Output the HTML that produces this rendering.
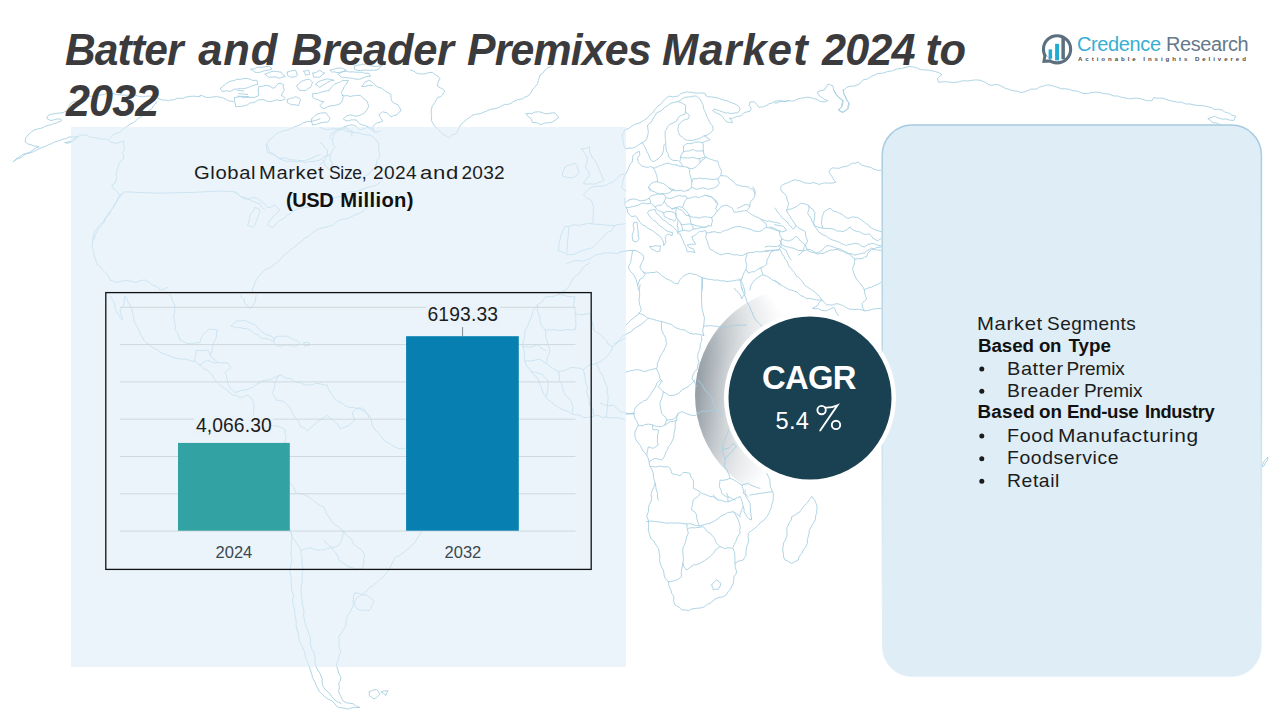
<!DOCTYPE html>
<html><head><meta charset="utf-8">
<title>Batter and Breader Premixes Market 2024 to 2032</title>
<style>
html,body{margin:0;padding:0;}
body{width:1280px;height:720px;position:relative;overflow:hidden;background:#fff;font-family:"Liberation Sans",sans-serif;}
svg.l{position:absolute;left:0;top:0;width:1280px;height:720px;}
.x{position:absolute;white-space:nowrap;line-height:1;transform-origin:0 0;}
#lpanel{position:absolute;left:71px;top:127px;width:555.3px;height:539.6px;background:rgba(223,237,248,0.62);}
</style></head>
<body>
<svg class="l" viewBox="0 0 1280 720" fill="none" stroke="#a6cfe1" stroke-width="0.9" stroke-linejoin="round" stroke-linecap="round">
<defs><radialGradient id="gg" gradientUnits="userSpaceOnUse" cx="668" cy="384" r="135"><stop offset="0.2" stop-color="#959ea5"/><stop offset="0.4" stop-color="#a6aeb4"/><stop offset="0.6" stop-color="#c3c9cd"/><stop offset="0.75" stop-color="#dcdfe2"/><stop offset="0.9" stop-color="#f0f1f3"/><stop offset="1" stop-color="#ffffff"/></radialGradient>
<radialGradient id="gg2" gradientUnits="userSpaceOnUse" cx="810" cy="398" r="116"><stop offset="0.72" stop-color="#fff" stop-opacity="0.45"/><stop offset="0.86" stop-color="#fff" stop-opacity="0.18"/><stop offset="0.97" stop-color="#fff" stop-opacity="0"/></radialGradient></defs>
<circle cx="803" cy="395" r="108" fill="url(#gg)" stroke="none"/><circle cx="803" cy="395" r="108" fill="url(#gg2)" stroke="none"/>
<path d="M13.3 161.7 L16.7 159.2 L19.7 157.9 L21.7 157.5 L23.6 155.3 L27.5 153.2 L30.2 152.9 L33.3 151.7 L36.1 150.4 L40.0 148.3 L43.5 146.8 L46.7 145.8 L48.7 144.5 L51.0 144.0 L53.5 142.4 L58.3 140.8 L61.3 139.8 L64.3 138.9 L66.7 138.3 L69.0 137.1 L73.3 136.7 L76.6 136.7 L80.0 135.8 L82.5 135.1 L86.7 135.0 L90.0 137.0 L93.3 137.5 L97.7 138.2 L101.7 139.2 L106.0 139.0 L108.3 140.0 M13.3 161.7 L14.9 160.2 L16.7 158.3 L18.5 157.6 L21.3 155.5 L23.3 154.3 L26.7 153.3 L29.3 152.5 L31.8 150.8 L35.0 148.3 L39.2 146.7 L36.7 146.2 L33.3 145.8 L30.9 144.6 L28.3 144.2 L25.0 141.7 L25.8 137.5 L28.0 134.9 L30.0 133.3 L31.4 132.1 L33.9 130.1 L36.7 129.2 L40.8 128.3 L43.1 127.6 L45.0 126.3 L48.3 125.3 L51.4 124.7 L53.3 123.7 L56.5 123.0 L58.7 121.9 L61.7 120.8 L60.8 119.2 L57.9 118.9 L54.5 119.7 L51.7 120.4 L50.0 120.3 L46.7 118.3 L48.3 115.3 L52.3 114.0 L55.0 113.7 L56.9 113.2 L59.7 113.2 L63.3 112.5 L66.7 110.8 L67.7 109.0 L69.2 106.4 L70.3 104.2 L71.7 102.5 L75.0 101.5 L81.2 100.1 L83.8 98.4 L86.7 96.3 L93.0 96.2 L96.6 95.5 L101.7 94.9 L106.7 93.7 L112.2 93.2 L116.5 94.6 L126.9 95.3 L133.3 94.3 L138.6 96.4 L142.2 96.8 L145.9 96.3 L150.0 96.0 L152.3 96.7 L156.1 97.4 L160.0 99.2 L163.8 100.3 L165.5 100.0 L168.3 100.8 L170.5 100.0 L173.7 99.8 L177.9 98.2 L183.3 98.3 L185.5 97.2 L189.9 96.4 L193.7 96.2 L200.0 96.7 M65.0 142.5 L67.6 142.2 L70.3 141.3 L71.7 140.0 L75.0 137.7 L78.3 136.7 L76.3 138.6 L73.3 140.8 L70.5 142.5 L66.7 143.3 L65.0 142.5 M156.7 101.7 L155.3 104.0 L153.4 105.8 L152.1 108.3 L150.0 110.0 L147.7 111.7 L146.3 114.2 L141.3 116.4 L138.3 118.3 L136.4 120.4 L133.5 122.7 L130.5 123.9 L126.7 126.7 L123.6 128.7 L121.2 131.4 L119.3 132.5 L116.7 133.3 L113.8 134.5 L111.1 136.4 L110.0 138.3 M108.3 140.0 L110.2 141.7 L112.1 142.5 L115.0 143.3 L118.1 142.7 L120.1 142.3 L123.3 140.8 L123.7 143.3 L124.2 146.7 L124.1 149.9 L122.5 153.3 L123.3 155.0 L124.2 158.3 L122.2 159.6 L120.0 161.7 L118.9 163.9 L118.5 165.9 L117.5 168.3 L116.8 170.2 L116.1 173.5 L116.7 176.7 L115.8 181.0 L115.0 183.3 L111.7 185.0 L113.3 188.3 L116.5 190.7 L118.4 193.6 L120.0 195.0 L121.5 193.7 L124.2 192.5 M120.0 195.0 L116.7 200.0 M117.5 200.0 L114.9 204.9 L113.2 207.5 L111.2 209.8 L110.0 213.0 L107.9 216.1 L105.7 217.8 L104.6 221.4 L101.2 226.2 L98.2 229.5 L97.0 232.0 L95.2 234.9 L93.8 240.0 M124.2 191.8 L158.5 193.2 L195.6 192.3 L219.1 191.0 L235.0 191.8 L237.8 194.2 L241.2 197.0 L245.0 197.2 L247.2 198.2 L250.0 200.0 L252.6 201.3 L256.3 202.7 L260.0 203.8 L261.9 207.4 L265.0 210.0 M320.0 118.8 L316.8 120.0 L314.4 120.6 L312.5 121.2 L310.2 121.4 L307.3 121.6 L303.3 122.9 L300.0 125.0 L296.9 126.0 L292.1 128.0 L288.2 129.8 L282.5 131.2 L279.1 132.6 L276.7 133.6 L274.3 135.4 L272.5 137.5 L270.3 139.4 L268.8 140.5 L267.4 142.9 L266.2 145.0 L266.8 148.8 L267.5 152.5 L270.3 153.5 L273.1 154.0 L275.2 155.7 L277.5 157.5 L281.1 158.3 L284.9 157.7 L289.0 159.6 L292.5 160.0 L296.5 160.0 L298.7 160.5 L304.7 160.7 L310.0 158.8 L314.0 157.2 L317.4 155.4 L320.0 155.0 M220.3 88.4 L222.6 86.4 L224.4 85.0 L226.4 83.4 L230.0 81.3 L234.4 80.5 L236.6 79.3 L240.4 79.3 L242.9 78.8 L246.7 78.3 L249.7 79.1 L252.5 80.4 L256.9 80.3 L257.9 84.4 L255.0 84.8 L250.8 86.4 L248.6 87.4 L245.4 88.3 L242.7 88.9 L240.6 88.4 L237.3 89.0 L234.1 89.3 L230.5 91.5 L227.1 90.7 L225.4 91.1 L222.3 91.5 L220.3 88.4 M237.6 90.5 L243.7 90.9 M238.6 93.5 L247.7 94.5 M237.6 96.2 L248.8 96.6 M234.5 97.6 L237.8 97.0 L240.6 96.6 L243.5 97.8 L245.8 97.3 L248.8 97.6 L251.9 97.2 L254.9 97.4 L258.9 95.5 L258.4 92.1 L258.2 89.9 L258.9 86.4 L261.9 86.5 L263.7 85.8 L267.0 85.4 L269.9 86.2 L273.1 88.4 L276.0 86.5 L278.2 83.4 L281.3 83.7 L283.3 84.4 L283.1 86.9 L284.3 90.5 L282.5 93.0 L281.3 95.5 L283.1 96.3 L285.3 98.6 L283.1 99.8 L281.3 100.6 L279.2 100.5 L276.6 99.8 L272.3 101.2 L269.1 101.6 L266.8 101.1 L264.8 100.0 L260.9 99.6 L257.7 100.1 L255.7 101.8 L252.8 102.7 L249.6 103.1 L247.8 104.7 L244.7 105.7 L240.3 106.5 L237.6 106.6 L235.5 106.7 L235.5 104.0 L234.5 101.6 L234.5 97.6 M287.3 99.6 L290.6 98.3 L293.5 97.9 L295.5 96.6 L298.9 98.0 L300.5 99.6 L299.4 103.3 L298.5 105.7 L295.0 104.7 L291.4 104.7 L289.5 103.7 L287.3 102.7 L287.3 99.6 M250.8 69.1 L254.6 68.8 L256.3 67.8 L258.9 67.1 L261.1 67.4 L264.6 66.8 L269.1 66.1 L272.1 69.1 L267.9 70.4 L264.8 70.7 L263.0 71.2 L260.1 72.2 L257.8 72.5 L254.8 72.2 L253.5 70.8 L250.8 69.1 M265.0 74.2 L268.5 72.8 L270.1 72.1 L273.1 71.2 L276.4 71.5 L278.8 71.8 L281.3 72.2 L282.6 74.3 L285.3 76.3 L281.4 77.5 L279.2 78.3 L275.0 76.8 L272.6 77.0 L269.1 77.3 L267.2 76.0 L265.0 74.2 M287.3 72.2 L290.1 71.1 L292.9 70.6 L295.5 70.2 L296.3 72.0 L297.5 75.2 L295.5 76.6 L291.4 77.3 L289.5 76.6 L287.3 75.2 L287.3 72.2 M303.6 71.2 L306.6 70.8 L308.7 70.2 L309.7 74.2 L305.6 75.2 L304.8 72.8 L303.6 71.2 M296.5 86.4 L298.7 83.8 L301.6 81.3 L303.6 80.6 L306.7 79.4 L309.7 79.3 L312.7 82.3 L311.4 85.2 L310.7 87.4 L308.6 88.2 L305.6 90.5 L301.9 90.3 L299.5 90.5 L298.1 87.9 L296.5 86.4 M312.7 73.2 L316.5 72.2 L319.8 70.2 L322.6 72.3 L324.9 73.2 L321.9 74.9 L319.8 77.3 L316.5 77.0 L313.8 77.3 L312.7 73.2 M315.8 84.4 L317.9 82.0 L321.9 80.3 L325.0 79.7 L327.5 78.9 L330.0 79.3 L334.1 80.3 L330.7 80.9 L327.8 82.1 L325.9 83.4 L322.7 85.3 L319.8 87.4 L317.8 85.6 L315.8 84.4 M330.0 70.2 L334.1 69.2 L338.1 68.1 L340.8 68.0 L342.8 68.5 L346.3 70.2 L342.9 71.6 L340.2 72.2 L337.1 72.6 L334.3 71.8 L332.0 72.2 L330.0 70.2 M329.0 90.5 L331.4 87.3 L334.1 84.4 L338.2 82.7 L340.8 81.7 L342.2 80.3 L345.7 80.5 L348.3 80.3 L346.6 84.0 L344.2 86.4 L343.3 89.0 L341.2 92.5 L342.5 94.7 L343.2 96.6 L342.4 100.6 L340.2 103.7 L337.3 104.8 L334.8 105.5 L332.0 105.7 L330.0 105.8 L327.4 107.0 L323.9 108.8 L321.5 107.3 L319.8 105.7 L321.9 103.6 L323.9 101.6 L320.8 101.2 L317.8 99.6 L314.5 98.7 L312.7 97.6 L312.7 93.5 L314.7 93.6 L317.4 93.5 L319.8 92.5 L323.1 91.7 L325.4 91.2 L329.0 90.5 M338.1 74.2 L340.0 73.0 L343.0 71.6 L346.3 71.2 L349.4 72.0 L353.5 71.8 L355.2 72.2 L358.4 72.2 L362.3 72.3 L364.7 73.3 L368.6 73.2 L370.6 76.3 L367.0 76.4 L364.1 77.4 L362.5 78.3 L359.4 79.2 L357.5 79.3 L355.1 79.0 L352.3 78.3 L348.8 77.9 L344.5 77.4 L342.2 77.3 L340.1 76.0 L338.1 74.2 M354.4 66.1 L358.1 65.0 L360.2 65.0 L362.5 64.1 L365.3 64.3 L367.1 63.9 L369.9 65.6 L372.7 66.1 L376.6 66.5 L380.5 65.7 L382.8 65.1 L380.7 66.5 L378.8 69.1 L376.0 70.2 L373.6 70.2 L369.6 70.3 L366.6 70.2 L363.0 70.1 L360.4 70.5 L357.6 70.5 L354.4 69.1 L354.4 66.1 M342.2 95.5 L345.3 95.9 L347.4 95.5 L350.3 96.6 L353.4 95.7 L355.3 95.7 L357.2 95.3 L360.5 95.5 L362.9 98.1 L366.6 100.6 L368.2 104.4 L368.6 106.7 L366.6 110.2 L364.5 112.8 L361.5 114.5 L358.4 115.9 L355.1 116.1 L352.7 115.3 L350.3 114.8 L347.0 115.9 L344.5 117.6 L343.2 118.9 L346.3 120.9 L349.0 120.6 L351.3 119.8 L353.8 119.9 L356.4 119.9 L357.3 121.5 L359.6 123.7 L362.5 125.0 L365.6 125.5 L368.6 127.0 L371.4 128.1 L374.7 131.1 L373.4 129.4 L372.7 127.0 L374.2 125.1 L376.7 123.0 L380.1 122.4 L382.8 120.9 L380.4 117.5 L378.8 114.8 L380.7 113.4 L382.8 111.8 L386.9 112.8 L388.9 114.5 L390.9 116.9 L393.1 115.8 L397.0 114.8 L399.3 111.9 L401.1 110.8 L399.7 107.6 L398.0 104.7 L394.1 103.2 L392.0 101.6 L391.1 98.6 L390.9 94.5 L388.0 92.7 L384.8 90.5 L381.2 88.1 L378.8 87.4 L375.9 86.0 L374.7 84.4 L372.7 82.6 L371.2 81.3 L368.6 80.3 L366.1 81.6 L364.5 82.3 L363.4 84.8 L361.5 86.4 L364.9 86.6 L368.6 85.4 L372.7 85.4 M311.7 118.9 L314.8 115.9 L317.8 113.8 L320.9 113.0 L323.1 112.9 L325.9 112.8 L327.9 115.7 L330.0 117.9 L329.6 119.6 L328.0 122.0 L323.8 122.3 L319.8 123.0 L316.7 124.3 L312.7 125.0 L311.5 121.9 L311.7 118.9 M200.0 95.5 L202.4 95.7 L205.1 97.1 L208.1 97.6 L210.6 97.4 L213.1 96.9 L216.3 96.6 L220.7 97.3 L223.5 98.1 L226.4 99.6 L228.7 100.9 L230.9 101.2 L233.5 101.6 M330.0 139.2 L330.2 136.5 L332.0 133.1 L334.7 131.2 L338.1 129.1 L340.9 128.2 L342.6 128.0 L346.3 128.0 L349.7 130.2 L352.3 131.1 L352.2 133.7 L351.3 136.2 M1262.0 466.0 L1263.7 461.9 L1265.5 459.5 L1268.0 457.0 L1267.3 460.5 L1265.4 462.8 L1263.5 466.5 L1262.0 466.0 M410.0 70.0 L414.2 71.2 L416.2 73.0 L420.3 74.0 L425.0 73.8 L428.7 72.6 L432.5 72.5 L435.7 75.0 L438.6 76.7 L440.0 78.8 L437.9 82.6 L437.5 86.2 L440.6 88.0 L442.5 88.8 L445.0 91.2 L443.6 92.5 L442.5 95.0 L440.8 96.5 L437.5 97.5 L436.3 99.9 L434.9 102.4 L433.8 103.8 L431.9 107.0 L431.4 109.7 L431.2 113.8 L431.7 116.8 L431.4 120.4 L432.8 123.4 L433.8 125.0 L435.4 126.8 L437.9 128.7 L440.0 131.2 L443.0 134.6 L445.7 135.6 L448.8 137.5 L450.3 136.7 L452.7 134.6 L456.2 133.8 L457.5 131.2 L458.1 129.5 L460.0 126.2 L461.6 123.5 L463.2 122.5 L465.0 120.9 L467.5 118.8 L470.7 117.0 L472.0 115.4 L475.6 114.2 L480.0 113.8 L483.0 112.5 L486.4 111.1 L491.6 109.0 L495.0 108.8 L500.6 106.7 L504.2 104.4 L507.7 104.4 L510.0 103.8 L513.9 101.3 L517.7 99.7 L519.8 99.2 L522.5 98.8 L524.9 97.0 L526.9 96.5 L528.9 95.1 L531.2 92.5 L532.3 89.9 L534.8 87.2 L537.5 83.8 L538.4 80.5 L539.0 78.6 L540.0 75.0 L542.8 73.2 L545.0 70.0 L547.9 67.7 L550.3 67.0 L552.5 65.0 M526.2 113.8 L529.6 113.4 L531.8 113.6 L535.0 112.0 L539.5 111.8 L542.4 112.7 L545.0 113.8 L548.8 113.5 L552.3 112.8 L555.0 113.0 L557.2 115.5 L558.8 117.5 L556.2 119.5 L552.5 122.0 L550.0 122.7 L546.4 122.9 L544.2 123.1 L541.2 124.5 L538.6 123.7 L536.4 122.7 L532.5 122.5 L531.2 118.8 L528.1 116.4 L526.2 113.8 M320.0 127.5 L324.4 129.0 L326.9 129.7 L332.0 128.9 L335.0 128.8 L340.5 129.3 L344.0 129.8 L347.5 131.5 L352.5 132.5 L359.2 132.9 L362.8 134.5 L366.6 134.9 L370.0 135.0 L372.8 136.8 L376.4 139.9 L378.8 143.8 L379.0 146.0 L378.6 149.4 L379.1 151.8 L380.0 155.0 L378.6 158.3 L376.8 160.7 L376.2 165.0 L374.3 168.0 L373.0 169.8 L370.0 172.5 L367.8 174.6 L365.6 175.8 L362.2 177.6 L357.5 178.8 M320.0 142.5 L322.8 144.5 L324.3 147.0 L327.5 150.0 L327.5 153.9 L326.2 156.2 L325.0 160.0 L322.6 162.3 L320.0 165.0 M774.7 103.0 L777.1 102.9 L781.2 101.2 L784.9 101.5 L788.8 100.6 L791.4 101.1 L794.3 100.8 L797.2 99.1 L800.6 98.3 L803.8 97.8 L807.7 97.1 L812.1 98.0 L813.8 98.6 L817.1 99.4 L819.5 101.1 L821.9 101.8 L825.4 101.8 L827.8 100.6 L823.6 99.0 L822.2 97.7 L819.5 95.9 L817.1 92.4 L821.0 90.6 L824.2 90.0 M833.7 90.0 L835.8 93.3 L837.3 95.7 L838.4 97.1 L840.4 98.2 L843.1 100.6 L841.9 103.5 L841.9 106.5 L840.6 107.9 L838.4 110.1 L840.9 111.9 L843.1 112.4 L844.7 110.6 L847.8 108.9 L849.2 105.3 L849.0 103.0 L846.7 100.4 L845.5 97.1 L844.1 94.6 L843.8 92.7 L843.1 90.0 M769.9 226.9 L772.9 227.8 L775.8 229.1 L779.4 231.6 L779.9 235.1 L781.7 238.7 L780.8 243.1 L779.4 245.8 L777.2 246.4 L773.5 246.6 L768.8 246.1 L765.2 247.0 M774.7 224.5 L778.0 225.5 L781.8 225.8 L784.1 226.9 L786.5 230.4 L782.5 231.8 L779.4 231.6 M774.7 208.0 L776.2 209.8 L778.3 213.1 L780.6 215.3 L781.7 217.4 L784.5 219.4 L785.8 221.0 L787.9 222.8 L788.8 224.5 L791.0 226.9 L793.5 229.2 L795.9 225.7 L793.9 222.2 L791.2 218.6 L790.3 216.4 L788.8 214.7 L787.6 213.0 L786.5 210.4 L787.5 207.9 L788.0 205.5 L788.8 203.3 L787.2 199.9 L786.5 196.2 L784.0 193.2 L781.7 191.5 L780.8 189.3 L780.6 186.8 L783.1 184.5 L786.5 183.2 L790.1 181.7 L792.0 180.6 L795.9 179.7 L797.6 180.6 L800.4 180.9 L804.2 182.8 L807.7 183.2 L810.2 183.4 L813.7 182.6 L815.9 183.4 L819.5 184.4 L822.2 183.4 L824.5 182.9 L828.9 183.2 L833.0 183.0 L836.0 182.0 L833.8 180.0 L832.5 177.3 L830.5 174.5 L828.9 171.4 L830.9 168.9 L832.5 167.9 L836.5 168.2 L839.1 168.3 L843.1 166.7 L846.2 166.5 L848.7 165.3 L852.5 163.2 L855.1 163.3 L858.4 162.0 L859.5 163.6 L862.1 165.2 L864.6 165.9 L866.7 166.7 L869.5 167.0 L871.3 167.7 L873.8 169.1 L877.8 170.4 L880.9 170.2 M786.5 210.4 L788.8 209.3 L791.1 209.0 L793.5 208.0 L797.1 206.3 L798.9 204.6 L800.6 203.3 L804.8 203.8 L808.9 205.6 L808.9 209.8 L807.7 212.7 L808.5 215.1 L811.0 218.1 L812.4 222.2 L814.5 225.2 L817.1 226.9 L820.2 227.7 L823.0 228.1 L821.6 224.5 L821.3 222.5 L821.9 219.8 L822.1 216.7 L823.0 214.8 L824.2 211.5 L827.3 209.6 L830.1 208.0 L832.2 210.1 L833.9 211.1 L836.1 211.6 L838.4 212.7 L842.4 214.5 L844.2 216.1 L847.8 218.6 L850.4 217.6 L852.8 217.0 L857.3 217.4 L859.9 218.9 L862.3 220.6 L864.3 222.2 L866.6 223.9 L868.2 224.6 L870.1 227.1 L873.8 229.2 L876.7 230.4 L880.9 231.6 M795.9 225.7 L797.6 227.0 L800.6 229.2 L803.0 230.1 L805.3 231.6 L805.6 235.2 L806.3 237.7 L807.7 241.1 L805.9 244.3 L804.2 247.3 L803.0 250.5 L800.4 253.8 L798.3 255.2 M808.9 205.6 L810.8 208.1 L812.9 209.4 L814.8 212.7 L814.7 217.0 L814.3 220.0 L813.6 222.2 L814.5 226.0 L816.6 228.8 L818.3 231.6 L821.0 233.5 L822.9 234.8 L826.6 236.3 L829.5 238.7 L832.2 239.9 L836.0 241.1 L839.7 242.4 L841.5 243.7 L844.1 244.5 L845.5 245.8 L847.7 244.8 L850.8 244.3 L854.9 243.4 L859.1 244.1 L861.8 246.2 L864.3 247.0 L867.9 244.5 L871.2 243.7 L873.8 243.4 L876.8 244.9 L880.9 245.8 M823.0 228.1 L826.2 228.5 L829.6 228.4 L833.7 229.2 L837.4 231.1 L840.4 231.1 L843.1 231.6 L844.8 230.8 L847.1 229.4 L850.2 226.9 L851.1 228.4 L853.6 230.2 L857.3 231.6 L859.7 231.8 L862.9 233.7 L865.2 234.4 L869.1 234.0 L871.3 235.7 L873.1 238.6 L874.9 239.0 L877.3 241.1 L880.9 238.7 M779.4 245.8 L780.7 246.9 L783.2 248.6 L786.5 250.5 L787.1 253.2 L788.6 256.0 L789.8 258.6 L791.2 259.9 M781.7 238.7 L784.2 240.1 L786.3 240.4 L788.8 241.1 L791.9 239.6 L793.7 238.8 L795.9 236.3 L798.0 237.8 L800.6 241.1 L802.8 242.9 L804.3 243.9 L805.6 246.2 L807.7 250.5 L810.2 251.8 L813.2 252.6 L817.1 252.9 L819.8 251.7 L822.7 249.7 L824.5 247.5 L826.6 245.8 L829.8 245.8 L831.8 246.6 L834.4 247.2 L836.0 248.1 L840.0 249.1 L842.2 250.1 L845.5 252.9 L848.6 253.9 L851.1 253.6 L854.9 255.2 L859.1 254.0 L860.9 253.6 L864.3 252.9 L866.6 250.8 L869.2 249.8 L871.4 248.1 L875.4 249.6 L877.6 250.0 L880.9 250.5 M622.3 134.3 L623.7 132.4 L624.6 129.7 L628.2 128.8 L630.5 127.1 L632.2 125.9 L635.4 124.1 L637.2 123.7 L639.9 122.9 L643.3 120.7 L646.0 119.0 L647.9 117.4 L650.6 114.4 L653.3 112.3 L654.3 110.3 L656.7 107.6 L658.1 105.8 L660.5 104.5 L662.8 101.5 L665.9 98.4 L668.9 96.1 L672.7 96.9 L675.2 96.4 L678.1 96.1 L680.6 93.8 L682.7 93.1 L686.3 91.9 L688.8 92.3 L692.0 92.2 L694.0 92.9 L696.4 93.1 L699.3 93.1 L701.6 93.1 L704.8 93.1 L706.3 96.1 L708.8 96.9 L711.7 96.9 L714.9 97.5 L717.3 97.9 L719.3 98.4 L723.1 100.0 L727.0 100.7 L728.6 101.6 L731.3 102.7 L734.6 103.8 L736.8 105.0 L739.2 106.8 L740.0 109.9 L737.7 112.9 L735.2 112.8 L731.6 113.7 L728.2 112.9 L725.4 112.9 L723.0 112.1 L719.3 110.6 L716.2 109.6 L714.0 109.1 L712.5 110.6 L716.3 112.9 L718.1 113.8 L720.9 115.2 L723.0 117.4 L723.9 119.0 L727.0 122.1 L729.2 122.2 L732.3 122.9 L731.6 119.8 L729.3 118.3 L732.3 118.2 L734.6 117.5 L736.9 116.4 L740.7 116.0 L743.8 112.9 L746.3 112.0 L749.9 111.4 L751.4 108.3 L749.1 105.3 L749.9 102.2 L752.2 101.7 L754.5 101.9 L756.8 104.5 L759.1 107.6 L761.1 106.9 L763.6 106.8 L767.2 105.1 L769.0 103.8 L771.3 103.4 L774.3 101.5 L776.5 101.0 L780.0 100.7 L782.7 101.2 L785.8 101.2 L789.0 100.5 M622.3 134.3 L622.6 136.6 L622.9 139.1 L623.1 142.0 L623.9 145.7 L625.3 148.8 L628.6 148.1 L632.2 148.1 L635.9 146.8 L638.3 145.0 L642.2 142.7 L643.7 145.5 L645.2 147.3 L646.1 149.6 L646.8 151.6 L648.3 154.2 L649.6 157.1 L650.6 159.5 L652.9 161.8 L655.3 160.6 L658.2 158.8 L659.6 157.2 L662.0 154.9 L663.2 151.9 L663.6 149.6 L663.7 146.7 L664.3 144.2 M642.2 142.7 L645.1 141.0 L646.7 138.9 L647.6 135.9 L648.1 133.6 L648.3 131.3 L647.7 127.7 L647.5 125.1 L650.8 122.7 L652.9 119.0 L654.3 116.9 L655.7 114.5 L656.7 112.9 L660.0 111.3 L662.4 109.9 L664.3 107.6 L666.2 106.6 L668.7 104.7 L671.2 103.0 L673.8 102.5 L678.1 101.5 L681.9 103.0 L685.7 105.3 L685.4 108.8 L685.7 112.2 M685.7 112.2 L684.9 114.4 L681.1 115.2 L678.1 117.5 L676.5 121.3 L674.3 122.1 L672.0 123.6 L669.9 124.3 L667.4 126.7 L666.8 129.0 L665.1 131.3 L665.2 133.9 L665.1 137.4 L665.5 139.8 L665.8 144.2 L665.9 147.6 L666.6 151.1 L668.0 153.8 L668.9 157.2 L670.3 158.7 L672.7 160.3 L676.1 160.5 L678.1 160.6 M678.1 101.5 L680.2 100.5 L682.7 98.4 L685.4 97.3 L688.8 96.9 L690.6 96.9 L693.3 96.1 L696.4 96.1 L698.6 98.0 L700.2 99.2 L701.6 102.2 L703.3 105.3 L703.5 108.7 L704.7 110.5 L705.6 112.9 L706.8 116.2 L708.6 119.8 L710.5 123.7 L712.5 125.9 L713.2 129.7 L711.5 131.8 L709.4 133.6 L706.8 135.2 L704.0 135.8 L707.8 137.9 L710.2 139.7 L707.5 140.8 L705.6 141.2 L702.5 142.7 M685.7 112.2 L687.8 113.7 L689.5 116.0 L688.0 119.0 L686.1 119.3 L682.7 120.6 L681.2 122.4 L678.8 124.4 L678.4 126.7 L677.8 129.7 L678.5 132.3 L679.6 135.1 L682.2 137.0 L684.2 138.9 L687.4 140.3 L689.5 140.4 L692.1 140.5 L696.4 139.2 L698.5 138.9 L701.4 137.6 L704.0 135.8 M683.4 146.5 L685.2 144.5 L687.2 143.5 L690.1 143.7 L692.9 143.2 L694.9 142.0 L699.1 142.0 L702.5 142.7 L703.3 145.0 L703.3 148.8 L703.3 151.1 L701.0 150.8 L697.9 151.1 L695.7 150.8 L693.3 149.6 L690.4 150.3 L688.8 151.1 L686.6 151.0 L683.4 151.9 L683.7 149.0 L683.4 146.5 M683.4 151.9 L682.7 152.7 L681.0 155.2 L680.4 157.2 L683.1 157.8 L687.2 158.0 L690.4 157.9 L693.3 157.2 L696.2 158.5 L699.5 158.8 L702.5 157.7 L705.6 157.2 L704.1 154.9 L703.3 151.1 M680.4 157.2 L680.4 159.6 L679.6 161.8 L681.5 163.8 L682.7 166.4 L684.9 166.8 L687.2 167.2 L689.5 168.3 L691.8 168.7 L693.6 168.2 L696.4 166.4 L698.3 164.6 L700.2 162.6 L699.5 158.8 M676.5 164.9 L678.9 166.1 L681.1 166.4 L682.7 166.4 M632.2 161.8 L632.5 159.0 L633.0 155.7 L635.1 153.4 L636.8 152.7 L639.1 151.1 L639.9 154.2 L637.6 158.0 L637.8 160.5 L638.3 162.6 L641.4 165.6 L643.0 166.3 L646.0 167.2 L648.6 167.2 L650.6 166.4 L652.9 167.9 L655.4 167.8 L658.2 166.4 L661.3 165.2 L664.3 164.1 L667.1 163.2 L668.9 163.3 L671.4 164.3 L673.5 164.9 L676.5 164.9 M632.2 161.8 L630.5 163.6 L629.2 166.4 L627.8 169.6 L626.1 173.3 L624.2 176.6 L623.1 180.2 L622.5 183.3 L622.1 186.1 L621.5 187.8 L623.7 189.3 L626.1 190.9 M652.9 167.9 L654.4 169.5 L655.9 173.1 L656.7 175.6 L657.4 178.6 L657.4 181.7 L653.7 182.1 L650.6 184.0 L648.3 187.8 L650.6 190.9 M657.4 181.7 L660.3 182.9 L662.8 183.2 L665.7 185.0 L668.9 187.8 L671.5 188.9 L675.0 190.1 M687.2 190.9 L689.5 189.4 L691.1 187.8 L691.6 185.6 L691.8 181.7 L690.9 177.9 L690.3 175.6 L689.7 173.4 L689.5 169.5 L687.2 167.2 M668.9 187.8 L672.0 190.9 M700.2 162.6 L701.7 160.3 L704.3 158.9 L705.6 157.2 L709.3 158.8 L711.7 159.5 L714.9 160.8 L717.8 161.1 L718.6 164.4 L719.3 166.4 L720.4 168.9 L721.6 171.0 L721.1 173.5 L720.9 175.6 L717.8 178.6 L714.5 179.4 L711.7 179.4 L708.3 179.0 L705.6 178.6 L702.0 178.7 L699.5 177.9 L697.1 178.8 L693.3 178.6 L691.8 181.7 M720.9 175.6 L724.2 175.8 L727.0 176.3 L729.5 178.9 L731.6 180.2 L734.2 182.3 L736.1 184.7 L738.9 185.3 L742.2 186.3 L745.0 186.5 L748.4 187.0 L750.6 188.7 L752.9 189.3 L753.7 191.0 L755.2 193.9 M691.1 187.8 L693.1 187.9 L696.4 189.3 L700.1 188.5 L702.5 187.8 L706.4 188.7 L708.6 189.3 L710.8 188.6 L714.7 187.8 L717.6 185.8 L719.3 183.2 L718.3 180.3 L717.8 178.6 M672.7 189.9 L671.2 191.7 L668.9 193.0 L665.6 193.8 L662.8 193.8 L660.3 194.1 L656.7 193.0 L654.9 192.0 L651.3 190.7 L650.5 188.9 L648.3 186.9 M672.7 189.9 L674.7 190.7 L678.1 190.7 L680.5 190.3 L684.2 191.5 L686.7 190.3 L688.8 189.9 M629.2 199.9 L632.6 199.0 L635.3 199.1 L638.0 200.1 L640.0 200.8 L642.9 200.6 L646.5 199.8 L649.0 198.3 L650.9 196.2 L652.9 195.3 L655.8 194.7 L658.2 193.8 L660.4 194.2 L662.8 193.8 M649.0 198.3 L650.4 200.8 L650.6 202.9 L652.1 204.4 L655.1 206.7 L658.6 205.3 L661.3 205.2 L662.8 203.7 L664.3 201.4 L665.8 197.6 L664.9 195.8 L662.8 193.8 M624.6 198.3 L625.0 200.6 L624.6 202.9 L626.7 201.6 L629.2 199.9 M624.6 202.9 L625.1 205.2 L626.1 207.5 L628.6 207.6 L632.2 206.7 L635.1 206.2 L638.3 205.2 L640.8 203.9 L642.9 202.9 L645.7 203.7 L649.0 203.7 L650.6 202.9 M665.8 197.6 L669.7 198.4 L672.0 198.3 L675.8 196.4 L679.6 195.3 L681.8 196.2 L685.7 196.0 L687.2 198.3 L685.2 200.7 L684.2 202.9 L683.4 204.9 L682.7 207.5 L679.8 206.7 L678.1 206.7 L674.9 208.2 L672.0 209.0 L670.0 207.2 L667.4 206.0 L666.1 203.7 L664.3 201.4 M687.2 198.3 L690.6 198.1 L693.3 196.8 L697.0 197.0 L699.5 197.6 L701.5 196.5 L705.6 195.3 L708.5 196.1 L711.7 196.8 L714.1 199.5 L716.3 200.6 L717.8 204.4 L716.6 205.9 L715.5 209.0 L717.8 210.6 L715.6 213.0 L714.7 215.1 L711.7 217.4 L708.5 217.3 L705.6 216.7 L701.8 217.2 L699.5 218.2 L696.1 217.2 L693.3 217.4 L689.5 215.9 L687.2 212.1 L684.2 209.0 L682.7 207.5 M705.6 195.3 L708.6 196.0 L711.8 197.2 L714.7 199.9 L716.0 202.4 L717.8 204.4 M717.8 210.6 L719.3 209.2 L720.9 206.7 L724.6 205.4 L727.0 205.2 L729.3 206.6 L731.6 207.5 L733.0 209.6 L733.8 212.1 L736.8 212.1 L740.7 211.3 L744.3 210.8 L746.8 210.6 L748.3 209.0 L749.9 206.0 L750.1 203.3 L750.7 201.4 L753.1 199.3 L754.5 196.8 L755.0 193.1 L755.2 190.7 L752.9 186.9 M737.7 208.3 L740.0 207.2 L742.2 206.0 L744.0 205.0 L746.8 204.4 L749.9 206.0 M746.8 210.6 L749.1 212.7 L750.5 213.7 L752.9 215.1 L756.4 217.0 L759.0 217.8 L760.6 219.0 L763.5 220.1 L766.7 221.3 L769.2 220.9 L772.8 222.0 L775.3 222.3 L777.5 222.8 L780.0 223.6 M711.7 232.0 L714.9 231.7 L717.8 232.7 L720.8 232.7 L722.3 231.4 L725.4 230.4 L728.0 229.8 L730.1 228.5 L733.1 227.4 L737.0 226.6 L740.7 226.6 L742.8 227.6 L745.2 227.8 L748.4 228.9 L751.5 229.6 L753.1 230.8 L756.0 231.2 L759.7 231.4 L762.1 230.4 L763.8 228.7 L766.7 227.4 L765.9 223.6 L763.4 222.0 L760.6 219.0 M766.7 227.4 L770.0 228.0 L772.8 228.9 L775.4 230.2 L777.4 230.4 L780.0 230.4 M689.5 215.9 L690.3 219.7 L690.7 222.4 L691.8 224.3 L694.4 225.0 L696.4 225.8 L699.5 226.1 L702.5 227.4 L706.1 227.0 L707.9 225.8 L711.7 225.8 L711.5 223.9 L712.5 221.3 L711.7 217.4 M672.0 209.0 L673.9 208.2 L676.5 207.5 L679.2 209.3 L681.1 209.8 L684.4 212.6 L685.7 215.1 L689.5 215.9 M676.5 207.5 L675.8 211.1 L675.8 213.6 L676.4 217.2 L678.1 219.7 L679.5 221.2 L681.1 224.3 L683.8 224.8 L685.7 224.3 L689.1 224.0 L691.8 224.3 M655.1 206.7 L656.5 208.9 L658.2 210.6 L660.3 211.2 L663.6 212.9 L665.7 211.8 L668.9 211.3 L671.7 211.7 L674.2 212.9 L675.8 213.6 M663.6 212.9 L664.3 216.7 L666.4 217.3 L668.9 219.0 L672.1 219.7 L674.2 221.3 L676.5 218.2 L675.8 215.7 L675.8 213.6 M655.1 209.8 L656.2 212.4 L657.2 214.1 L659.7 215.9 L661.8 218.7 L664.2 220.4 L665.8 221.3 L667.6 222.8 L669.2 224.6 L672.0 225.8 L673.8 227.6 L676.5 230.4 L678.1 234.2 M678.1 219.7 L677.6 223.4 L677.3 225.8 L678.2 229.1 L678.1 232.0 L679.8 233.6 L681.1 236.5 L682.4 239.2 L683.4 241.1 L683.9 243.4 L685.7 246.5 L686.5 248.7 L687.2 251.8 L690.3 251.7 L692.9 251.9 L694.9 252.6 L693.3 248.8 L690.5 248.0 L688.8 247.2 L687.2 244.9 L689.1 244.6 L691.8 244.2 L695.6 244.2 L693.3 240.4 L691.8 236.5 L694.1 235.9 L696.4 234.2 L699.5 231.2 L701.9 231.5 L705.6 230.4 L706.3 232.7 L708.4 232.9 L711.7 232.0 M681.1 224.3 L682.2 227.3 L682.7 230.4 L685.3 230.4 L688.8 231.2 L691.1 230.6 L693.3 228.9 L692.8 225.8 L691.8 224.3 M678.1 232.0 L682.7 230.4 M693.3 228.9 L696.4 228.9 L699.8 227.9 L703.3 227.0 L705.6 227.4 L707.9 225.8 M706.3 232.7 L706.1 235.8 L705.6 238.1 L707.7 241.8 L707.9 244.2 L709.4 247.3 L710.2 249.5 L712.2 249.9 L714.7 251.8 L718.4 253.7 L720.9 254.9 L723.3 254.2 L727.0 253.3 L730.9 253.9 L733.1 254.9 L737.1 254.7 L740.7 255.6 L743.3 255.1 L746.8 253.3 L750.2 252.5 L752.9 252.6 L755.7 251.6 L758.6 251.8 L760.6 251.8 L764.7 251.4 L768.2 251.1 L770.8 250.3 L774.3 250.3 L777.4 250.1 L780.0 249.5 M746.8 253.3 L746.8 256.0 L745.3 259.5 L746.3 262.9 L746.8 265.6 L746.1 269.4 L748.4 273.2 L751.7 271.8 L754.5 271.7 L758.0 269.2 L760.6 267.9 L764.6 266.1 L766.7 264.0 L767.0 260.0 L769.0 256.4 L770.5 252.6 L774.3 250.3 M760.6 267.9 L761.2 269.9 L762.1 272.1 L762.9 274.7 L764.4 275.3 L767.2 276.3 L769.8 277.8 L772.0 279.8 L775.9 281.6 L777.9 282.4 L780.0 283.9 M762.9 274.7 L760.3 276.2 L757.5 277.8 L755.5 279.4 L752.9 282.4 L751.7 284.2 L750.5 286.7 L749.9 290.0 M746.1 269.4 L743.8 273.1 L743.0 275.5 L742.2 277.8 L741.2 279.9 L740.7 283.9 L741.7 287.8 L742.2 290.0 M626.1 207.5 L627.5 210.1 L627.6 212.9 L630.3 215.1 L631.5 216.7 L635.3 215.9 L636.9 217.2 L638.3 219.7 L639.9 222.3 L642.9 225.1 L645.5 225.9 L647.3 228.0 L649.0 228.9 L652.7 230.6 L655.1 232.7 L656.7 233.9 L659.7 235.8 L661.3 238.2 L662.8 240.4 L663.7 243.3 L663.6 245.7 L665.8 242.7 L665.6 239.3 L665.1 237.3 L667.4 234.2 L669.2 234.4 L672.0 235.8 L672.7 232.7 L670.1 232.0 L667.4 231.2 L665.1 229.9 L662.8 227.4 L660.4 226.3 L658.2 224.3 L656.1 221.9 L653.6 220.5 L652.2 218.9 L649.8 216.7 L647.5 212.9 L649.0 210.6 L652.5 209.7 L655.1 209.8 M633.8 222.8 L636.8 222.0 L637.3 224.5 L637.6 227.4 L638.0 231.1 L638.3 233.5 L638.2 236.1 L639.1 238.8 L636.8 241.9 L633.0 241.1 L632.4 238.0 L632.2 235.8 L632.7 233.5 L633.8 230.4 L633.9 228.1 L633.0 225.8 L633.8 222.8 M649.8 246.5 L653.0 246.5 L655.1 245.7 L658.3 246.1 L660.5 245.7 L660.3 247.7 L660.0 251.1 L656.7 251.8 L654.0 249.9 L652.1 249.5 L649.8 246.5 M620.0 251.8 L622.6 251.4 L626.1 251.1 L629.8 250.4 L633.0 250.3 L635.9 250.6 L638.3 251.8 L640.5 253.3 L642.9 254.9 L643.6 256.5 L643.7 259.5 L641.4 263.3 L639.9 267.1 L641.5 270.2 L642.9 271.7 L646.0 273.2 L648.9 272.9 L650.6 272.5 L654.3 272.5 L656.7 271.7 L659.9 273.6 L661.3 275.5 L663.9 276.9 L665.8 278.6 L669.4 280.0 L672.0 281.6 L674.9 283.4 L678.1 283.9 L679.0 281.3 L680.4 279.3 L682.2 277.3 L684.2 275.5 L688.0 273.8 L690.3 273.2 L692.9 274.1 L696.4 274.7 L698.7 276.1 L702.5 277.8 L706.4 278.8 L708.6 279.3 L711.3 279.6 L714.7 280.1 L717.9 280.0 L720.9 280.9 L723.3 280.7 L727.0 281.6 L729.6 281.2 L733.1 280.9 L736.4 280.1 L740.7 280.1 L742.2 277.8 M633.0 250.3 L632.4 252.6 L631.5 256.4 L630.9 260.1 L630.7 262.5 L629.4 264.8 L628.4 267.1 L629.1 269.1 L630.7 271.7 L633.8 274.7 L634.8 277.0 L636.0 279.3 L636.9 282.6 L637.6 285.4 L638.2 287.4 L638.3 290.0 M642.9 271.7 L645.2 274.7 L642.9 277.8 L639.9 279.3 L638.9 281.9 L637.6 285.4 M702.5 277.8 L702.2 290.0 M626.0 414.2 L629.4 413.9 L633.3 413.3 L634.1 415.0 L635.0 418.3 L636.4 420.6 L637.4 422.2 L638.3 425.0 L637.1 427.6 L635.8 430.0 L634.8 432.8 L635.0 436.7 L636.1 439.8 L638.3 443.3 L640.6 445.6 L641.5 448.2 L642.5 450.0 L645.1 453.0 L646.7 455.0 L647.8 457.4 L649.2 461.7 L649.3 464.1 L650.0 466.7 L651.7 469.0 L652.7 471.5 L653.3 473.3 L653.5 477.6 L654.2 480.0 L655.1 482.6 L655.8 486.7 L656.3 489.8 L657.5 493.3 L657.4 497.0 L658.3 500.0 M633.3 413.3 L634.5 410.5 L635.0 408.3 L637.7 404.8 L640.0 403.3 L642.4 402.0 L643.7 400.6 L646.7 400.0 L648.7 396.9 L650.7 394.3 L651.9 392.2 L653.3 390.0 L655.7 387.0 L656.7 383.3 L658.3 381.5 L660.0 380.0 M661.7 380.0 L660.1 383.9 L658.3 386.7 L660.6 389.1 L663.3 391.7 L662.8 394.8 L661.7 398.3 L660.2 402.1 L660.0 405.0 L660.9 409.1 L661.7 413.3 L664.0 415.8 L666.0 418.3 L666.7 420.0 L665.9 421.9 L665.0 425.0 L661.7 426.5 L658.3 426.7 L654.6 425.8 L652.5 425.0 L648.9 424.1 L644.9 424.6 L643.3 425.5 L640.0 425.8 L638.3 425.0 M663.3 391.7 L666.8 393.8 L670.0 395.8 L674.3 395.2 L676.7 394.2 L679.7 392.6 L681.7 390.0 L685.0 388.3 L688.3 386.7 L691.0 383.8 L693.3 381.7 L695.0 380.0 M666.7 420.0 L669.7 419.8 L673.3 419.2 L676.2 417.0 L678.3 413.3 L681.7 411.7 L684.7 412.7 L686.3 413.6 L690.0 415.0 L691.9 415.2 L695.0 415.8 L698.3 413.3 L700.7 412.2 L703.3 410.8 L706.0 411.4 L708.6 411.2 L710.5 410.6 L713.3 410.0 L716.5 411.1 L718.3 411.7 L720.2 413.8 L722.5 415.8 M652.5 425.0 L652.7 428.3 L653.3 430.0 L655.9 429.6 L658.3 430.0 L658.3 432.1 L657.5 435.1 L657.5 438.3 L657.3 442.4 L658.3 445.0 L655.3 447.1 L653.3 448.3 L651.3 447.9 L648.3 446.7 L647.5 450.9 L646.7 455.0 M665.0 425.0 L667.8 423.3 L670.0 421.7 L673.2 421.6 L676.7 420.0 L676.9 416.2 L678.3 413.3 M676.7 420.0 L675.4 422.2 L675.2 424.6 L675.2 427.4 L675.0 430.0 L673.9 433.6 L674.0 435.5 L673.3 438.3 L671.9 441.5 L670.3 444.8 L668.3 446.7 L667.9 448.7 L666.2 451.6 L665.0 455.0 L663.5 458.0 L661.7 460.0 L658.4 459.1 L655.0 458.3 L652.4 459.6 L649.2 461.7 M650.0 466.7 L652.2 466.3 L655.1 467.0 L658.3 466.6 L660.0 465.8 L661.9 466.7 L664.4 466.8 L668.3 466.7 L670.3 468.8 L671.3 471.4 L671.7 473.3 L674.2 474.4 L676.6 474.5 L680.0 475.8 L681.8 473.8 L683.3 472.5 L686.0 472.5 L690.0 473.3 L690.7 476.2 L691.6 478.3 L693.3 480.0 L693.6 484.4 L693.3 488.3 L696.7 489.8 L700.0 491.7 L702.2 493.5 L704.1 494.0 L706.7 495.0 L710.0 496.5 L713.3 496.7 L715.7 498.4 L718.3 500.0 M728.3 430.0 L728.0 432.1 L727.0 434.9 L725.0 438.3 L724.6 440.6 L722.9 443.3 L722.9 447.0 L722.5 450.0 L723.2 454.3 L725.0 458.3 L725.2 461.9 L724.6 463.8 L724.2 466.7 L726.5 469.4 L728.3 473.3 L729.6 476.5 L730.0 478.3 L728.2 479.2 L725.0 480.0 L722.0 480.4 L720.0 480.0 L719.7 483.4 L719.2 486.7 L721.0 489.6 L721.7 493.3 L723.4 495.0 L726.7 496.7 L730.6 497.7 L732.6 499.1 L735.0 500.0 M722.5 450.0 L725.8 448.6 L728.3 448.3 L730.9 446.3 L733.3 443.3 L734.5 445.2 L736.7 446.7 L735.0 447.7 L733.3 450.0 L731.1 452.8 L728.3 455.0 L727.0 456.9 L725.0 458.3 M730.0 478.3 L733.9 479.9 L736.7 481.7 L739.7 483.8 L741.7 485.0 L742.9 488.7 L743.5 491.5 L743.3 493.3 L746.2 494.8 L748.3 496.7 M741.7 485.0 L745.0 484.2 L748.3 483.3 L751.0 485.2 L755.0 486.7 L757.3 487.6 L760.0 488.3 M698.3 380.0 L699.9 382.3 L702.2 384.9 L703.2 386.9 L705.0 390.0 L707.3 392.5 L710.0 395.5 L712.2 398.6 L713.3 403.3 L714.7 407.1 L716.6 408.9 L718.3 411.7 M824.0 90.0 L825.8 87.9 L828.0 84.0 L830.2 84.8 L833.0 86.0 L833.7 90.0 L834.9 92.7 L836.2 94.6 L838.4 97.0 L840.9 99.6 L843.0 100.6 L842.9 102.9 L842.0 106.5 L840.6 107.6 L838.4 110.0 L841.0 111.2 L843.0 112.4 L845.4 110.9 L847.8 108.9 L848.1 105.5 L849.0 103.0 L846.7 99.5 L845.5 97.0 L843.7 93.4 L843.0 90.0 L844.8 89.3 L846.9 87.2 L849.9 86.3 L854.2 86.0 L856.8 84.9 L859.4 84.0 L861.6 81.3 L863.1 79.9 L867.3 79.0 L871.9 76.2 L874.3 75.2 L877.8 73.4 L882.3 73.3 L887.5 71.6 L892.5 70.8 L896.9 69.0 L901.8 68.4 L909.0 66.5 L912.1 66.8 L914.9 67.2 L920.6 69.5 L925.0 70.0 L928.7 70.1 L934.5 71.4 L938.1 72.4 L942.0 74.5 L939.1 76.8 L937.3 78.5 L938.7 82.6 L940.7 82.0 L944.3 81.7 L948.6 82.0 L952.4 82.5 L958.0 82.1 L962.7 80.7 L968.0 81.0 L971.4 80.4 L975.7 79.9 L980.0 80.2 L984.7 82.0 L988.3 84.4 L991.0 85.3 L995.4 84.6 L997.6 84.5 L1001.0 86.0 L1005.9 88.5 L1008.8 89.2 L1010.7 90.1 L1014.0 90.8 L1016.5 91.0 L1020.7 92.5 L1024.7 91.9 L1028.5 90.2 L1030.6 89.2 L1032.8 89.1 L1036.3 89.1 L1039.6 87.1 L1043.7 86.0 L1047.5 84.9 L1051.3 85.4 L1054.7 86.6 L1056.8 87.0 L1061.5 88.8 L1065.9 88.8 L1069.9 89.5 L1073.0 90.8 L1077.2 91.1 L1082.4 93.2 L1085.0 93.6 L1089.6 93.1 L1094.7 92.2 L1098.1 92.2 L1102.5 93.3 L1109.0 94.1 L1114.0 96.0 L1117.6 96.0 L1119.5 96.8 L1122.5 97.4 L1128.6 98.7 L1132.8 98.6 L1135.6 98.1 L1139.0 98.4 L1143.4 99.5 L1146.3 100.7 L1148.9 100.7 L1152.0 100.7 L1153.6 97.4 L1156.4 98.2 L1159.8 98.1 L1162.1 98.0 L1165.0 99.0 L1168.0 100.1 L1170.9 100.8 L1177.2 102.2 L1181.5 102.3 L1186.2 104.1 L1189.4 103.9 L1193.7 104.8 L1198.0 105.6 L1202.2 105.6 L1208.5 106.9 L1211.8 107.7 L1214.3 109.5 L1218.8 109.2 L1222.3 110.1 L1224.5 111.9 L1227.5 112.8 L1229.4 113.3 L1231.8 115.2 L1235.6 116.1 L1234.9 117.9 L1234.0 120.4 L1229.9 120.2 L1225.7 118.9 L1223.0 119.3 L1221.0 118.7 L1217.4 117.7 L1214.3 116.1 L1212.0 117.3 L1207.8 118.7 L1210.4 120.3 L1212.7 122.7 L1216.5 122.9 L1219.1 124.3 L1221.0 124.6 M640.1 284.8 L639.3 289.4 L639.7 293.2 L639.6 296.8 L638.9 299.0 L639.3 301.3 L639.5 304.2 L640.7 307.6 L641.3 310.8 L638.9 313.2 L637.6 315.1 L634.9 316.9 L633.0 318.4 L630.7 320.2 L628.6 322.4 L626.0 325.0 M702.0 277.8 L701.5 297.1 L701.9 308.1 L704.4 317.9 L703.8 325.0 L703.1 328.5 L702.7 331.4 L703.8 335.6 M703.8 326.1 L710.6 325.7 L716.3 326.4 L723.5 327.5 L732.2 326.1 L735.3 325.2 L741.2 325.3 L744.0 325.1 L746.3 325.0 M741.6 287.2 L742.5 288.9 L743.0 291.8 L745.0 296.3 L746.3 299.0 L746.6 301.3 L748.3 304.5 L750.0 307.0 L751.1 310.8 L752.4 313.0 L753.2 315.3 L754.4 317.8 L755.8 320.2 L757.3 321.8 L759.6 323.8 L760.8 325.1 L762.9 327.3 M734.5 288.4 L736.7 291.1 L739.2 293.3 L741.1 296.4 L741.6 299.0 L742.8 296.4 L745.1 294.3 L744.4 289.1 L743.4 286.5 L742.4 283.3 L739.2 278.9 M638.9 313.2 L640.4 313.8 L643.1 314.8 L645.0 315.9 L647.2 317.9 L652.3 319.1 L656.2 320.3 L659.4 321.1 L661.4 321.4 L667.5 323.4 L671.4 324.5 L675.1 327.5 L677.9 328.5 L680.7 329.5 L685.2 330.1 L687.1 331.8 L689.7 333.2 L693.0 334.0 L695.7 333.8 L698.9 334.3 L703.8 335.6 M661.4 321.4 L661.5 324.5 L661.4 329.1 L662.7 332.3 L663.7 334.4 L665.8 338.2 L666.1 341.5 L666.5 343.5 L665.7 346.7 L664.6 348.2 L663.7 350.9 L662.4 352.7 L660.7 355.5 L659.7 357.5 L659.0 360.4 L657.3 363.3 L657.4 365.8 L656.6 368.6 L658.1 372.1 L659.2 374.3 L659.4 377.1 L660.2 379.2 L662.5 381.6 M701.5 336.8 L701.8 339.0 L701.5 341.4 L700.3 343.8 L700.0 348.3 L698.9 351.4 L697.9 353.3 L697.7 356.2 L697.8 358.1 L698.4 359.8 L699.1 362.7 L697.8 365.1 L697.3 368.8 L694.4 372.2 L693.0 374.9 L692.0 379.2 L693.9 381.0 L694.8 383.1 L696.8 386.3 M626.0 372.2 L629.7 370.9 L631.7 370.6 L635.4 369.8 L638.1 369.6 L641.2 370.6 L644.1 371.4 L647.2 371.0 L648.7 370.1 L651.5 369.6 L654.3 368.8 L656.6 368.6 M614.2 343.8 L617.2 342.3 L619.3 339.8 L623.1 335.6 L626.0 334.4 L631.1 331.6 L635.2 328.0 L643.1 323.2 L647.2 319.1 M765.2 250.6 L770.1 250.8 L772.9 250.4 L775.8 250.4 L779.4 249.4 L780.2 247.2 L781.7 244.7 L780.7 241.7 L779.4 240.0 M779.4 249.4 L780.9 251.1 L782.1 253.5 L784.1 256.5 L784.7 258.5 L787.0 261.5 L787.9 263.6 L788.8 266.0 L791.0 268.3 L792.7 270.7 L794.4 272.3 L795.9 275.4 L798.8 277.8 L800.8 279.7 L803.0 282.5 L804.6 285.1 L807.7 287.2 L810.4 289.1 L812.6 290.4 L815.6 292.7 L817.1 294.3 L819.5 296.5 L821.9 300.2 M774.7 280.1 L778.3 283.8 L783.4 286.3 L785.4 287.5 L788.8 289.6 L791.9 290.2 L793.6 290.9 L797.1 292.1 L800.6 295.5 L803.1 296.4 L806.4 298.6 L809.8 298.4 L812.4 299.0 L816.7 300.1 L819.1 299.8 L821.9 300.2 M781.7 244.7 L785.3 246.5 L788.8 247.1 L790.7 247.7 L794.2 248.4 L796.0 249.4 L798.3 250.6 L801.2 250.5 L803.8 250.9 L807.7 249.4 L810.5 249.7 L813.1 251.1 L815.6 253.1 L817.1 254.2 L820.8 253.2 L822.9 253.5 L826.6 251.8 L830.7 250.0 L833.5 250.0 L836.0 249.4 L838.3 249.7 L840.8 251.0 L843.7 251.2 L847.8 253.0 L850.6 254.8 L852.0 256.8 L854.9 258.9 L854.5 262.5 L854.0 264.9 L852.5 268.3 L853.2 271.2 L854.0 273.9 L855.5 277.2 L857.3 280.1 L859.6 282.6 L861.3 285.1 L863.3 287.5 L864.3 289.6 L868.2 288.0 L871.4 287.2 L874.8 285.3 L878.4 284.1 L880.9 282.5 M821.9 300.2 L824.8 302.7 L826.6 304.9 L830.2 304.8 L832.2 305.2 L836.0 303.7 L838.9 304.0 L840.8 305.0 L842.6 305.4 L845.5 307.3 L847.1 308.0 L850.0 309.4 L852.6 309.2 L854.9 309.6 L858.7 309.1 L862.3 310.0 L864.3 310.8 L867.9 310.5 L871.4 309.6 L873.5 308.9 L876.9 308.7 L880.9 308.4 M854.9 258.9 L859.4 258.7 L861.9 258.6 L864.4 257.3 L866.7 256.5 L867.8 253.2 L869.9 251.0 L871.4 249.4 L874.0 249.1 L876.8 247.5 L880.9 247.1 M864.3 289.6 L864.8 293.3 L865.4 295.4 L866.7 299.0 L864.8 300.6 L862.0 303.7 L862.5 307.2 L864.3 310.8 M821.9 300.2 L819.1 302.5 L817.1 306.1 L814.1 307.4 L812.4 308.4 L815.9 308.8 L818.5 308.7 L821.8 310.5 L826.6 310.8 L829.6 309.2 L831.3 308.5 L833.7 307.3 L835.0 309.1 L836.0 312.0 L838.4 315.5 M600.0 403.3 L602.3 403.9 L605.2 405.1 L609.2 405.7 L613.3 405.0 L614.9 406.7 L617.7 408.7 L620.0 411.7 L624.5 412.6 L628.5 413.7 L631.9 414.0 L635.0 413.3 M655.0 483.3 L653.6 487.6 L652.4 490.0 L651.1 494.1 L651.7 500.0 L649.4 504.4 L648.5 507.4 L648.4 511.5 L646.7 516.7 L648.3 519.9 L648.6 524.7 L648.5 526.6 L648.3 530.0 L649.5 534.2 L651.0 538.8 L653.3 540.5 L655.0 543.3 L656.8 546.4 L658.6 548.7 L659.2 552.8 L660.0 556.7 L659.4 559.7 L659.9 562.1 L661.6 567.1 L663.3 570.0 L663.8 572.1 L664.0 574.6 L665.3 578.4 L668.3 581.7 L668.8 583.9 L669.0 586.5 L670.8 589.5 L671.7 593.3 L673.5 595.8 L673.8 597.5 L673.7 601.6 L675.0 605.0 L676.7 606.0 L679.1 607.2 L681.7 610.0 L684.9 609.9 L688.6 610.6 L691.7 609.0 L696.7 608.3 L701.6 607.8 L704.6 606.6 L707.6 604.0 L710.0 603.3 L714.2 599.9 L717.9 597.7 L720.9 597.2 L723.3 596.7 L726.1 594.9 L728.3 591.6 L730.5 589.0 L733.3 583.3 L733.8 579.2 L734.0 576.5 L735.9 574.2 L736.7 571.7 L735.3 567.6 L735.0 563.3 L738.7 561.0 L740.7 560.7 L743.3 560.0 L744.7 557.4 L746.0 555.6 L746.1 550.6 L746.7 546.7 L747.8 543.8 L748.5 540.9 L748.1 536.7 L748.3 533.3 L751.5 530.7 L754.3 528.6 L756.7 526.7 L758.3 525.1 L760.4 522.6 L763.6 520.6 L766.7 516.7 L768.0 514.9 L769.1 512.8 L770.4 509.7 L771.7 506.7 L771.8 504.4 L773.0 501.5 L773.3 496.4 L773.3 493.3 L771.9 490.1 L770.5 486.9 L769.8 482.9 L770.0 480.0 L768.5 477.0 L766.7 473.3 M713.3 495.0 L715.0 497.4 L718.3 500.0 L721.4 500.2 L723.2 501.1 L725.5 501.8 L728.3 501.7 L727.7 498.6 L728.1 496.5 L726.7 493.3 M646.7 521.7 L651.3 521.0 L654.7 521.5 L661.4 522.2 L666.7 523.3 L670.5 522.8 L674.3 523.1 L680.0 523.1 L686.7 524.0 L690.5 523.7 L694.5 525.2 L696.8 525.6 L700.0 526.0 L698.7 524.3 L697.4 521.0 L696.7 517.6 L696.7 515.0 L694.9 512.1 L691.7 510.0 L691.7 507.4 L692.5 504.4 L693.3 500.0 L695.3 498.0 L697.1 497.1 L699.0 495.3 L700.0 493.3 M700.0 526.0 L704.1 524.7 L707.5 523.7 L710.0 523.3 L713.8 521.3 L718.0 518.8 L721.1 516.0 L723.3 515.0 L726.2 513.6 L727.6 512.5 L730.3 512.3 L733.3 511.7 L736.7 513.9 L740.0 516.7 L740.1 513.9 L741.4 510.9 L742.4 508.4 L743.3 506.7 L742.7 504.2 L742.1 501.8 L741.1 498.5 L740.0 496.7 M740.0 496.7 L728.3 501.7 M686.7 524.0 L687.1 527.4 L687.7 530.7 L688.3 533.3 L686.6 537.0 L686.0 539.9 L685.4 542.7 L683.3 546.7 L682.6 550.4 L683.2 556.7 L683.6 559.3 L682.7 563.3 L684.1 567.0 L686.7 570.0 L689.9 567.6 L693.3 565.0 L696.8 564.6 L700.0 563.3 L704.6 560.6 L707.8 558.4 L710.0 556.8 L713.3 553.3 L714.7 551.2 L715.8 549.5 L717.5 548.7 L720.0 546.7 M688.3 528.3 L691.5 527.7 L695.5 527.8 L700.3 527.2 L703.3 526.7 L705.4 529.0 L707.2 531.5 L710.0 533.3 L712.0 535.2 L714.9 538.9 L715.7 541.7 L716.7 543.3 L718.2 544.8 L720.0 546.7 L722.8 547.7 L724.5 548.7 L728.1 547.7 L733.3 548.3 L734.3 551.6 L734.8 554.7 L734.9 558.9 L735.0 563.3 M733.3 511.7 L734.6 513.1 L736.2 515.9 L737.4 517.9 L738.3 520.0 L739.6 524.0 L740.2 527.8 L739.7 530.2 L740.0 533.3 L737.7 536.7 L735.7 541.6 L734.2 544.5 L733.3 546.7 M750.0 495.0 L771.7 491.7 M743.3 506.7 L744.2 509.8 L744.0 511.8 L745.7 514.2 L746.7 516.7 L748.8 518.7 L751.7 520.0 L751.2 516.2 L750.8 513.9 L750.3 507.7 L750.0 503.3 L748.0 499.5 L746.0 496.6 L745.1 493.8 L745.0 490.0 M711.7 585.0 L714.3 581.6 L716.7 580.0 L719.4 581.8 L720.7 583.3 L720.3 585.8 L718.3 589.3 L715.3 589.2 L713.3 590.0 L712.7 587.6 L711.7 585.0 M668.3 581.7 L670.6 581.6 L674.5 580.7 L677.4 579.8 L681.7 576.7 L681.2 573.4 L681.6 569.1 L682.3 566.0 L683.3 563.3 M811.7 496.7 L814.4 499.8 L816.0 503.3 L817.1 507.2 L816.8 509.5 L816.7 513.3 L815.5 516.3 L815.4 519.6 L813.3 523.3 L811.0 527.2 L809.0 530.7 L809.2 533.0 L808.3 536.7 L807.3 539.5 L807.4 543.4 L805.3 547.6 L803.3 550.0 L802.1 553.1 L800.7 554.5 L798.9 557.2 L798.3 560.0 L795.5 561.3 L791.7 563.3 L789.1 562.1 L787.5 560.8 L785.0 560.0 L783.6 557.1 L783.5 554.4 L782.7 550.0 L783.1 546.5 L783.8 542.3 L785.3 540.1 L786.7 536.7 L787.1 533.8 L786.7 529.5 L787.0 527.4 L788.3 525.0 L789.5 522.2 L791.3 520.1 L791.7 516.7 L794.6 515.4 L797.0 513.6 L800.0 511.7 L801.4 509.6 L802.6 507.8 L804.1 506.2 L806.7 503.3 L807.9 502.0 L809.5 499.5 L811.7 496.7 M122.5 193.8 L119.9 197.1 L117.6 199.5 L116.2 202.5 L114.4 204.2 L112.6 208.4 L109.6 211.4 L107.5 215.0 L104.8 218.7 L102.9 222.5 L100.3 224.3 L97.5 227.5 L96.5 229.5 L94.3 232.0 L93.8 234.9 L92.5 240.0 L92.5 243.5 L92.0 246.8 L93.8 251.7 L93.8 255.0 L95.3 258.1 L96.1 261.1 L97.5 265.0 L101.1 267.3 L102.9 270.3 L105.0 272.5 L107.5 274.5 L108.7 276.7 L110.0 280.0 L113.7 281.3 L117.5 282.5 L120.4 281.5 L122.4 281.0 L125.0 280.0 L129.0 281.1 L133.0 281.4 L135.0 282.5 L137.7 281.9 L139.9 281.0 L142.9 280.2 L145.0 280.0 L148.2 281.9 L150.8 283.7 L152.5 285.0 L156.0 286.4 L158.9 288.2 L160.0 290.0 L163.4 289.6 L165.9 288.2 L167.5 287.5 M235.0 192.5 L237.7 193.8 L240.0 196.2 L243.0 198.2 L245.8 199.1 L247.5 200.0 L251.5 198.0 L255.0 197.5 L258.8 199.2 L261.1 201.3 L262.5 202.5 L264.9 204.2 L267.5 207.5 L271.1 207.2 L275.0 205.0 L277.2 207.0 L277.9 208.6 L280.0 210.0 L277.4 212.1 L276.3 213.7 L274.4 215.0 L272.5 217.5 L271.3 219.4 L268.9 221.4 L267.5 225.0 L270.3 226.6 L272.5 227.5 L275.8 224.6 L277.6 222.1 L280.0 220.0 L282.6 219.2 L284.8 217.5 L287.5 215.0 L290.6 213.5 L293.2 211.7 L295.0 210.0 L297.2 209.4 L299.4 208.1 L302.7 208.0 L305.0 207.5 L309.2 207.2 L311.5 206.3 L315.0 205.0 L317.2 202.8 L320.3 201.3 L323.0 200.9 L325.0 200.0 L327.8 199.9 L331.2 199.5 L335.0 197.5 L340.0 196.6 L343.0 195.1 L344.6 194.2 L347.5 192.5 L350.2 191.6 L355.2 191.8 L358.0 190.7 L360.0 190.0 L363.5 188.8 L366.5 187.8 L369.1 186.8 L372.5 186.2 L374.8 185.8 L377.2 184.5 L380.0 182.5 M255.0 207.5 L254.3 209.3 L252.7 211.7 L250.0 215.0 L249.6 218.9 L248.4 222.8 L247.5 225.0 L250.3 226.3 L252.5 227.5 L254.4 225.6 L255.9 222.4 L257.2 219.9 L257.5 217.5 L258.8 214.7 L259.3 212.5 L260.0 210.0 L258.4 208.7 L255.0 207.5 M380.0 202.5 L375.8 203.2 L372.0 205.7 L369.9 206.3 L367.5 207.5 L363.6 210.8 L359.9 213.2 L357.4 213.9 L355.0 215.0 L349.6 217.5 L346.4 219.0 L343.3 218.8 L340.0 220.0 L337.1 221.4 L333.1 225.2 L328.6 226.4 L325.0 227.5 L321.7 228.0 L318.3 229.2 L312.9 232.4 L310.0 235.0 L307.2 237.3 L304.6 238.0 L302.9 240.4 L300.0 242.5 L297.1 244.4 L296.0 246.0 L293.6 247.5 L290.0 250.0 L288.3 252.3 L286.1 253.7 L282.9 256.3 L280.0 260.0 L276.9 262.8 L273.9 264.5 L271.8 266.4 L270.0 267.5 L267.3 268.9 L264.7 270.0 L261.5 273.1 L260.0 275.0 L257.8 277.5 L256.6 279.5 L255.0 282.5 L253.8 286.2 L252.5 289.0 L252.5 292.5 M267.5 145.0 L268.6 149.3 L270.0 152.5 L273.6 154.1 L276.3 156.1 L277.5 157.5 L279.8 159.2 L283.8 160.4 L286.7 161.3 L290.0 161.2 L294.8 161.9 L298.9 161.5 L301.7 161.5 L305.0 162.5 L308.4 161.9 L310.9 161.6 L315.7 161.1 L320.0 160.0 L323.1 157.5 L325.8 156.2 L330.0 155.0 L331.5 153.1 L332.3 150.4 L335.0 147.5 L333.2 144.4 L332.5 140.0 L333.4 136.6 L335.0 132.5 L337.6 131.0 L340.3 130.1 L342.5 127.5 L346.5 126.1 L349.7 125.2 L352.5 125.0 L355.7 126.0 L357.6 127.7 L360.0 130.0 L363.3 128.8 L367.5 127.5 L370.6 129.0 L373.2 131.2 L375.0 132.5 L377.3 131.8 L380.0 131.2 M330.0 155.0 L330.3 159.2 L331.0 161.5 L332.5 163.8 L331.2 166.6 L328.8 170.0 L327.4 168.1 L325.0 165.0 L323.8 162.0 L322.5 160.0 M110.0 296.2 L112.3 299.4 L114.1 302.6 L115.0 305.0 L114.9 307.4 L116.0 310.8 L117.4 313.0 L118.8 315.0 L120.6 317.9 L122.5 320.0 L122.1 316.7 L120.8 314.2 L120.0 310.0 L122.6 307.0 L123.8 305.0 L124.1 301.0 L124.3 299.1 L125.0 296.2 M125.0 296.2 L127.0 299.6 L128.0 302.1 L131.5 307.5 L132.5 312.5 L133.7 317.2 L133.9 320.4 L135.0 323.0 L137.5 327.5 L139.1 330.1 L140.7 334.5 L141.9 336.5 L143.8 340.0 L146.1 342.6 L148.9 344.3 L150.8 346.4 L155.0 348.8 L157.6 350.0 L161.0 353.0 L166.0 354.4 L170.0 356.2 L173.8 357.5 L178.6 358.8 L181.3 359.2 L185.0 358.8 L188.9 360.1 L191.3 361.0 L195.0 361.2 L197.9 363.4 L200.0 365.0 L202.5 367.3 L204.2 368.8 L207.5 370.0 L210.0 373.2 L212.5 375.0 L213.0 376.7 L214.6 379.5 L217.5 382.5 L220.1 385.3 L221.9 386.5 L225.0 388.8 L227.3 390.1 L229.1 392.4 L232.5 395.0 L236.0 395.4 L238.0 396.7 L240.0 397.5 L244.2 396.7 L247.5 395.0 L250.0 396.8 L252.5 400.0 L253.9 404.1 L254.0 407.2 L253.8 410.0 L253.5 412.8 L253.4 415.7 L253.7 417.6 L255.0 420.0 M170.0 295.0 L171.6 297.4 L172.6 301.8 L175.0 305.0 L174.4 308.2 L174.7 313.0 L173.7 315.1 L173.8 317.5 L174.5 322.6 L175.7 325.5 L175.1 327.6 L175.0 330.0 L176.7 331.5 L178.3 334.5 L179.2 337.4 L180.0 340.0 L182.1 340.7 L184.7 342.2 L186.5 343.2 L190.0 343.8 L193.2 343.8 L195.6 342.9 L200.0 342.5 L201.1 338.3 L202.7 335.3 L203.8 333.8 L206.5 331.1 L210.0 328.8 L213.0 329.6 L215.6 329.7 L217.5 330.0 L216.4 332.9 L216.4 335.1 L216.4 337.1 L215.0 340.0 L213.6 343.0 L213.1 344.8 L212.5 347.5 L211.9 350.7 L211.5 352.9 L210.0 355.0 L211.9 357.8 L213.6 359.2 L215.8 360.4 L217.5 362.5 L221.5 362.9 L223.9 363.0 L227.5 362.5 L229.4 366.0 L231.2 367.5 L229.9 368.6 L227.5 370.0 L225.0 372.5 L226.4 375.1 L226.6 377.8 L227.5 380.0 L227.8 382.9 L228.7 385.2 L230.0 387.5 L232.7 390.5 L235.0 392.5 L239.2 391.1 L241.5 390.3 L245.0 390.0 L248.1 389.2 L250.8 388.0 L252.5 387.5 L254.3 386.2 L257.1 383.9 L260.0 382.5 L261.6 381.2 L265.0 380.0 L268.5 380.1 L272.5 378.8 L274.1 377.6 L276.9 376.5 L280.0 375.0 M195.0 361.2 L194.9 358.1 L195.8 355.8 L195.9 352.9 L196.2 350.0 L199.6 350.6 L202.3 350.5 L204.5 350.5 L207.5 350.0 L209.2 352.2 L210.0 355.0 M200.0 365.0 L201.9 363.1 L204.2 362.2 L207.5 360.0 L211.2 361.9 L213.8 362.8 L217.5 362.5 M231.2 326.2 L233.2 324.0 L236.2 321.2 L239.3 320.7 L241.5 321.1 L245.0 320.0 L247.4 321.7 L248.9 322.4 L252.5 323.8 L255.8 325.3 L257.2 327.5 L260.0 330.0 L261.8 331.5 L264.5 333.7 L267.5 335.0 L270.6 335.6 L272.1 337.1 L275.0 338.8 L272.5 341.2 L268.5 339.2 L264.9 338.4 L262.5 338.8 L259.6 336.4 L258.2 335.1 L255.0 333.8 L252.9 331.7 L250.4 330.4 L247.5 328.8 L245.1 328.4 L242.7 328.4 L240.0 327.5 L236.4 327.9 L233.8 326.7 L231.2 326.2 M275.0 337.5 L278.6 336.1 L282.7 336.2 L285.0 336.2 L287.6 336.4 L290.3 337.7 L292.8 339.4 L295.0 340.0 L297.8 341.2 L300.0 343.8 L297.8 345.4 L296.0 346.0 L292.5 346.2 L290.4 345.9 L288.1 345.0 L285.0 345.0 L281.4 346.2 L277.5 346.2 L275.2 344.4 L273.8 342.5 L273.9 340.0 L275.0 337.5 M303.8 343.0 L306.6 342.3 L308.8 342.5 L309.5 345.5 L306.8 345.4 L304.5 346.2 L303.8 343.0 M240.0 295.0 L241.7 297.2 L243.9 299.5 L245.0 303.8 L247.3 305.2 L250.0 308.8 L252.9 305.4 L255.0 302.5 L255.6 298.7 L256.2 295.0 M280.0 375.0 L283.1 376.4 L285.1 378.0 L287.2 378.2 L290.0 378.8 L292.1 379.4 L295.5 381.5 L298.2 382.6 L300.0 382.5 L302.6 383.9 L306.1 384.8 L310.0 385.0 L313.4 384.5 L315.5 383.3 L318.2 383.6 L320.0 383.8 L324.1 385.0 L327.5 385.0 L327.7 387.1 L329.1 390.2 L330.5 392.4 L332.5 395.0 L334.8 398.8 L337.2 400.5 L340.0 402.5 L343.2 404.0 L344.6 405.4 L347.3 406.6 L350.0 407.5 L354.3 407.6 L357.1 408.7 L360.0 408.8 L361.8 410.3 L364.2 411.3 L366.4 413.8 L368.8 415.0 L370.1 417.0 L371.3 420.6 L372.1 425.0 L375.0 430.0 L378.2 432.6 L382.7 438.4 L385.0 441.2 L387.5 442.5 L390.6 444.3 L395.0 447.2 L397.7 448.3 L400.0 448.8 L403.9 448.7 L406.2 447.5 M280.0 375.0 L277.7 377.2 L276.7 379.0 L275.0 382.5 L274.5 386.9 L273.7 390.1 L272.5 392.5 L273.5 395.3 L274.8 396.8 L276.2 400.0 L280.0 400.6 L283.3 401.4 L285.0 402.5 L286.6 404.4 L288.0 405.9 L290.0 407.5 L291.7 411.6 L293.8 415.0 L295.5 417.8 L297.5 420.0 L299.2 422.5 L300.0 426.2 L303.3 427.3 L305.9 429.2 L307.5 431.2 L309.4 428.6 L312.5 426.2 L315.4 423.8 L316.8 421.9 L320.0 420.0 L323.2 418.0 L325.0 417.1 L327.5 415.0 L329.4 417.5 L332.5 420.0 L334.5 421.6 L336.3 422.9 L338.4 425.0 L340.0 428.8 L343.3 427.5 L347.5 426.2 L349.2 425.3 L351.6 422.7 L355.0 420.0 L354.6 418.2 L352.9 416.0 L352.5 412.5 L355.5 409.2 L357.5 407.5 L359.6 408.1 L362.3 408.2 L365.0 410.0 L365.8 411.8 L367.7 414.3 L368.8 417.5 M255.0 420.0 L257.8 420.3 L261.5 421.7 L265.6 423.0 L270.0 425.0 L274.3 425.7 L278.0 426.4 L282.6 427.9 L285.0 430.0 L285.0 433.3 L286.2 437.5 L285.1 440.4 L284.9 443.0 L284.6 446.2 L282.5 450.0 L284.3 453.9 L284.8 458.5 L284.6 461.7 L285.0 465.0 M290.5 531.2 L291.8 534.4 L292.0 538.2 L291.1 543.0 L291.4 550.1 L290.8 555.0 L292.0 559.4 L290.9 563.9 L290.5 568.9 L289.9 571.8 L291.0 576.9 L291.3 581.5 L291.4 587.8 L291.9 591.6 L293.7 595.0 L292.5 600.8 L293.8 606.7 L294.9 611.3 L294.9 615.4 L296.3 621.5 L296.1 625.6 L298.1 633.4 L298.9 637.6 L299.0 640.7 L300.9 644.5 L302.5 647.4 L304.3 651.2 L305.5 656.9 L307.9 663.4 L309.6 667.2 L311.8 674.3 L312.5 677.7 L315.0 682.3 L316.4 685.7 L319.6 691.8 L321.7 693.8 L324.5 696.5 L328.4 699.3 L332.4 701.2 L334.2 702.9 L336.3 705.9 L338.9 707.5 L343.7 708.1 L348.1 709.2 L349.9 708.2 L352.9 707.6 L356.5 707.6 L359.9 707.4 L356.9 706.7 L355.3 705.5 L352.8 703.6 L349.2 703.2 L346.6 702.8 L343.4 701.2 L341.7 698.1 L340.3 695.3 L338.6 691.8 L339.4 687.8 L338.7 683.5 L340.4 680.4 L341.0 677.6 L338.9 673.5 L338.2 670.9 L336.8 666.2 L336.3 663.4 L337.6 661.9 L338.7 658.7 L338.8 655.8 L341.0 651.6 L339.7 649.0 L338.7 645.3 L339.3 640.3 L338.6 637.4 L340.8 633.8 L343.2 629.8 L345.0 627.4 L345.7 625.6 L346.0 622.2 L346.2 619.4 L347.4 616.1 L350.5 611.5 L352.0 608.0 L353.1 605.0 L354.8 602.0 L355.2 599.7 L357.6 597.2 L359.3 596.2 L362.7 594.6 L367.0 590.2 L369.6 587.7 L372.4 586.2 L374.5 584.3 L376.4 583.1 L378.0 581.3 L380.4 579.1 L383.4 576.6 L385.9 573.7 L388.4 570.8 L391.3 565.1 L393.4 560.8 L395.3 557.1 L398.9 555.9 L401.4 554.2 L404.3 551.9 L409.5 547.7 L413.5 544.1 L416.1 540.7 L417.3 537.9 L418.9 535.9 L423.1 528.8 L424.3 524.2 L425.9 521.1 L428.4 517.0 L428.9 509.2 L430.3 505.0 L432.4 502.0 L433.1 498.1 L431.5 492.0 L431.5 488.2 L429.3 480.4 L428.4 474.5 L425.0 469.6 L421.4 466.4 L420.1 464.2 L418.9 460.3 L416.8 459.3 L414.1 457.3 L411.9 455.4 L409.5 450.9 M300.9 550.1 L301.3 554.9 L302.2 558.9 L301.8 564.7 L303.2 568.9 L302.3 571.8 L302.1 576.0 L302.2 581.3 L300.9 587.8 L301.3 595.0 L302.1 599.8 L302.2 604.1 L303.2 606.7 L304.0 611.3 L303.6 615.4 L304.3 619.1 L305.6 625.6 L307.9 630.5 L308.9 634.5 L310.5 638.0 L310.3 644.5 L311.5 648.3 L314.1 653.5 L315.0 656.9 L315.0 663.4 L316.7 668.0 L320.0 673.5 L322.3 679.0 L322.1 682.3 L322.6 685.4 L325.2 689.7 L329.8 693.5 L331.6 696.5 L333.8 698.7 L336.5 701.3 L338.6 702.2 L341.0 703.6 M277.2 460.3 L279.8 466.0 L282.6 469.3 L285.2 473.1 L286.7 479.2 L289.1 481.7 L291.3 483.7 L293.8 487.1 L296.1 493.4 L299.4 493.2 L302.2 494.0 L306.8 495.8 L310.3 498.1 L313.5 500.4 L317.6 503.7 L320.9 506.0 L324.5 507.5 L324.9 510.0 L326.7 514.0 L329.1 517.0 L331.6 521.7 L335.2 524.7 L338.6 526.7 L340.7 529.5 L343.4 531.2 L343.1 534.2 L342.0 538.5 L340.5 542.4 L338.6 545.3 L335.2 547.0 L329.7 548.1 L326.5 548.9 L324.5 550.1 L321.4 549.6 L319.1 550.3 L313.8 549.1 L310.3 547.7 L307.9 548.1 L305.1 549.2 L300.9 550.1 L298.7 546.1 L294.2 539.8 L292.0 536.9 L290.5 531.2 L288.7 524.2 L289.2 517.1 L288.4 510.9 L286.7 507.5 L285.0 504.2 L284.3 500.3 L282.5 495.8 L279.6 488.6 L278.2 484.7 L277.3 480.7 L274.7 474.5 L272.5 469.7 M343.4 531.2 L346.9 535.6 L349.9 537.3 L351.9 540.1 L352.8 543.0 L354.9 545.1 L357.5 547.1 L361.3 549.7 L364.6 554.8 L363.7 559.3 L364.2 561.9 L363.5 564.7 L362.3 568.9 L358.0 569.1 L354.3 568.5 L352.1 567.5 L348.1 566.6 L345.6 564.8 L343.8 563.5 L341.8 562.1 L338.6 559.5 L338.1 556.5 L335.4 552.4 L333.7 550.9 L331.6 547.7 L329.4 546.1 L328.2 544.5 L326.4 543.4 L324.5 540.6 M355.2 592.6 L357.1 593.3 L359.9 593.6 L364.1 595.0 L367.0 594.9 L369.0 597.2 L371.8 598.7 L374.1 602.0 L371.7 605.2 L370.7 608.1 L369.3 610.5 L366.6 610.1 L363.7 610.3 L360.1 610.1 L357.5 609.1 L355.3 606.6 L354.8 604.5 L352.8 602.0 L353.5 599.7 L353.5 595.8 L355.2 592.6 M369.3 691.8 L372.4 690.3 L376.4 689.4 L378.1 691.4 L380.2 694.1 L378.6 695.3 L376.6 697.7 L374.1 698.8 L371.1 697.0 L369.3 695.5 L369.3 691.8 M381.2 691.8 L384.3 690.8 L388.2 690.8 L386.8 692.9 L385.9 695.5 L383.1 693.2 L381.2 691.8 M581.2 148.8 L584.3 148.5 L586.7 148.2 L589.6 146.7 L589.5 150.9 L590.7 153.7 L592.1 157.0 L593.8 159.2 L596.8 163.5 L598.2 166.9 L599.3 169.4 L600.0 171.7 L601.6 174.7 L601.9 177.0 L604.2 180.0 L602.0 181.2 L599.8 182.1 L596.3 183.5 L593.8 184.2 L590.8 183.8 L588.9 184.1 L585.4 184.1 L583.3 183.3 L585.0 180.9 L585.6 179.3 L587.9 177.5 L589.6 175.8 L588.6 172.0 L587.8 170.1 L585.4 167.5 L586.7 163.6 L587.0 161.3 L587.5 159.2 L586.4 155.9 L584.2 152.4 L582.8 150.0 L581.2 148.8 M564.6 167.5 L566.8 166.0 L568.8 165.4 L571.8 164.3 L575.0 163.3 L577.5 166.5 L578.0 169.7 L579.2 171.7 L577.0 175.1 L575.1 176.2 L572.9 177.9 L569.0 177.6 L566.7 177.3 L562.5 175.8 L562.5 172.5 L564.0 169.5 L564.6 167.5 M625.0 173.8 L621.3 174.7 L618.8 176.4 L616.5 179.0 L612.5 182.1 L609.6 183.2 L606.3 185.3 L603.8 185.6 L600.0 186.2 L597.2 186.2 L594.4 186.6 L592.3 186.8 L589.6 188.3 L586.4 191.5 L583.3 194.6 L585.5 197.0 L586.8 198.2 L589.8 199.4 L591.7 200.8 L592.8 205.1 L593.6 207.6 L593.2 210.9 L593.8 213.3 L593.0 215.5 L593.1 218.2 L593.1 220.6 L591.7 223.8 L587.6 223.4 L583.6 224.5 L580.7 224.9 L579.2 225.8 L576.4 224.8 L573.4 224.8 L569.0 226.5 L564.6 226.7 L562.8 230.8 L561.0 234.7 L560.4 238.3 L559.5 241.1 L558.8 244.2 L558.9 247.1 L558.3 250.8 L560.4 251.4 L562.7 252.1 L564.9 253.2 L566.7 255.0 L568.6 254.7 L572.1 254.7 L575.0 254.0 L577.1 252.9 L580.0 251.3 L584.3 250.1 L586.9 249.0 L589.6 248.8 L592.4 247.6 L594.4 245.8 L596.8 243.7 L600.0 240.4 L602.8 237.6 L604.4 235.0 L606.8 233.5 L608.3 232.1 L610.5 231.1 L612.9 228.9 L614.6 225.8 L617.6 224.5 L619.5 224.6 L623.0 224.0 L625.0 223.8 M568.8 227.9 L566.7 252.9 M591.7 223.8 L614.6 225.8 M566.7 263.3 L569.5 262.7 L572.8 261.2 L577.2 260.5 L583.3 261.2 L586.3 259.8 L590.9 258.1 L593.4 256.2 L595.8 255.0 L597.7 254.3 L600.7 254.1 L603.5 253.1 L608.3 252.9 L612.4 253.1 L617.6 253.4 L620.6 252.3 L625.0 250.8 M589.6 263.3 L585.6 265.3 L583.5 267.3 L581.0 270.5 L579.2 273.8 L575.8 275.5 L572.9 279.0 L570.9 282.8 L568.8 286.2 L567.3 288.6 L564.2 291.0 L560.3 292.8 L558.3 294.6 L556.1 295.6 L551.9 296.7 L548.9 296.7 L545.8 296.7 L544.3 298.3 L543.3 300.8 L540.6 302.7 L537.5 305.0 L534.3 308.9 L532.7 311.4 L532.2 314.4 L531.2 317.5 L529.9 320.3 L528.7 323.6 L526.9 327.5 L525.0 330.0 L525.0 333.7 L524.5 338.0 L523.0 341.8 L522.9 346.7 L524.1 350.7 L524.4 354.7 L524.2 357.7 L525.0 361.2 L525.5 363.2 L526.6 365.9 L528.7 367.6 L531.2 371.7 L533.0 374.1 L536.9 377.3 L538.4 379.9 L539.6 384.2 L541.2 386.9 L542.7 392.0 L544.3 394.8 L545.8 396.7 L548.7 400.4 L551.3 401.7 L554.4 405.1 L558.3 407.1 L561.0 409.2 L566.3 410.7 L568.7 411.7 L570.8 413.3 L574.3 414.7 L577.0 414.8 L580.2 415.5 L583.3 417.5 L587.4 417.5 L589.9 416.9 L593.2 416.7 L595.8 415.4 L598.6 415.6 L602.8 417.8 L604.9 417.1 L608.3 417.5 L612.0 417.9 L614.9 417.9 L618.9 417.8 L625.0 419.6 M558.3 294.6 L561.1 294.6 L565.0 295.8 L569.5 296.7 L575.0 296.7 L574.4 300.0 L573.5 305.9 L575.1 309.8 L575.0 313.3 L578.1 314.5 L581.7 314.9 L585.8 314.0 L589.6 313.3 L590.8 318.3 L591.9 321.3 L592.9 325.2 L593.8 330.0 L596.6 332.2 L598.7 332.9 L602.0 336.4 L604.2 338.3 L606.4 340.5 L608.6 344.6 L612.5 346.7 L615.7 344.4 L618.9 341.1 L621.3 340.5 L625.0 338.3 M537.5 305.0 L537.4 311.0 L539.9 317.2 L540.2 322.9 L541.7 325.8 L542.9 327.6 L545.8 330.0 L553.2 329.7 L559.7 330.5 L566.7 329.6 L575.0 330.0 L576.0 324.7 L575.7 321.3 L575.9 316.6 L575.0 313.3 M545.8 330.0 L545.7 337.3 L547.9 343.6 L549.1 347.4 L550.0 350.8 L548.9 354.4 L547.4 356.2 L547.1 360.5 L545.8 363.3 L548.4 364.6 L551.0 367.2 L555.5 369.8 L558.3 371.7 L561.3 371.0 L563.6 371.0 L567.8 369.2 L570.8 367.5 L573.2 367.6 L577.1 367.9 L580.8 368.5 L583.3 369.6 L587.1 366.5 L590.6 364.5 L593.1 364.5 L595.8 363.3 L601.6 361.4 L604.2 358.8 L606.2 357.0 L608.3 355.0 L610.5 351.9 L612.0 348.9 L612.5 346.7 M558.3 371.7 L559.5 376.4 L559.2 380.1 L561.9 384.3 L562.5 388.3 L564.2 392.7 L565.2 395.0 L568.9 397.9 L570.8 400.8 L572.1 404.0 L572.9 406.8 L572.5 409.6 L572.9 413.3 M583.3 369.6 L584.1 372.9 L584.9 376.3 L585.8 383.2 L587.5 388.3 L586.7 391.2 L587.2 394.7 L589.0 398.7 L589.6 405.0 L592.3 408.3 L593.2 411.0 L593.8 415.4 M595.8 363.3 L598.2 367.1 L599.2 370.1 L602.9 376.0 L604.2 380.0 L605.8 384.6 L607.1 387.3 L607.3 393.4 L608.3 396.7 L607.6 403.7 L607.1 409.8 L606.7 414.5 L606.2 417.5 M522.9 346.7 L526.2 346.6 L528.6 347.2 L533.2 346.5 L537.5 344.6 L540.1 347.6 L542.2 348.6 L545.8 350.8 M525.0 361.2 L527.3 360.7 L530.9 361.0 L535.2 360.1 L539.6 359.2 L542.9 361.2 L545.8 363.3 M531.2 371.7 L534.1 371.9 L535.8 372.3 L539.4 373.8 L541.7 373.8 L542.7 375.2 L544.5 377.3 L547.9 380.0 L548.1 385.7 L547.9 388.9 L547.2 393.0 L545.8 396.7"/>
</svg>
<div id="lpanel"></div>
<svg class="l" viewBox="0 0 1280 720">
<defs>
<linearGradient id="pb" x1="0" y1="0" x2="0" y2="1"><stop offset="0" stop-color="#a6cbe0"/><stop offset="0.5" stop-color="#c2dcea"/><stop offset="1" stop-color="#deedf6" stop-opacity="0"/></linearGradient>
</defs>
<!-- chart -->
<g stroke="#cfd8dd" stroke-width="1">
<line x1="120" x2="575.5" y1="307.3" y2="307.3"/><line x1="120" x2="575.5" y1="344.6" y2="344.6"/><line x1="120" x2="575.5" y1="381.9" y2="381.9"/><line x1="120" x2="575.5" y1="419.2" y2="419.2"/><line x1="120" x2="575.5" y1="456.5" y2="456.5"/><line x1="120" x2="575.5" y1="493.8" y2="493.8"/><line x1="120" x2="575.5" y1="531.1" y2="531.1"/>
</g>
<rect x="194" y="415" width="79" height="22" fill="#eaf3fa"/>
<rect x="426" y="304" width="74" height="22" fill="#eaf3fa"/>
<rect x="178" y="442.9" width="111.8" height="87.8" fill="#33a2a2"/>
<rect x="406.1" y="336.2" width="112.7" height="194.5" fill="#0780b1"/>
<line x1="462.6" x2="462.6" y1="327" y2="336.2" stroke="#7d8a90" stroke-width="1"/>
<rect x="105.8" y="292.6" width="485.4" height="276.8" fill="none" stroke="#111" stroke-width="1.3"/>
<!-- CAGR + right panel -->
<rect x="882.2" y="125.1" width="379.2" height="551.6" rx="30" ry="30" fill="#deedf6" stroke="url(#pb)" stroke-width="1.5"/>
<circle cx="810" cy="398" r="86" fill="#fff"/>
<circle cx="810" cy="398" r="81.5" fill="#1a4152"/>
<g fill="none" stroke="#fff" stroke-width="1.9" stroke-linecap="round">
<circle cx="821.6" cy="410.1" r="4.2"/>
<circle cx="836" cy="424.9" r="4.2"/>
<path d="M825.3 407.6 Q831 408 837.4 405.4 L820.2 430.5"/>
</g>
<circle cx="981.8" cy="369.09999999999997" r="2.5" fill="#1c1c1c"/>
<circle cx="981.8" cy="391.3" r="2.5" fill="#1c1c1c"/>
<circle cx="981.8" cy="435.9" r="2.5" fill="#1c1c1c"/>
<circle cx="981.8" cy="458.7" r="2.5" fill="#1c1c1c"/>
<circle cx="981.8" cy="481.2" r="2.5" fill="#1c1c1c"/>
<g id="logo">
<circle cx="1057.05" cy="49.3" r="13.6" fill="none" stroke="#5c6f7f" stroke-width="3.1"/>
<path d="M1043.6 54.5 L1042.2 63 L1051 62.6 Z" fill="#5c6f7f"/>
<path d="M1046.6 55.5 L1045.6 59.6 L1049.8 59.5 Z" fill="#fff"/>
<rect x="1048.6" y="49.4" width="3.5" height="9.4" fill="#21aad2"/>
<rect x="1055.1" y="43.8" width="3.9" height="16.6" fill="#21aad2"/>
<rect x="1061.4" y="37.6" width="3.5" height="21.6" fill="#5c6f7f"/>
</g>

</svg>
<div class="x" style="left:65.02px;top:28.68px;font-weight:bold;font-style:italic;font-size:43.5px;letter-spacing:-0.87px;color:#3b3b3d;transform:scaleX(0.9768);">Batter</div>
<div class="x" style="left:198.2px;top:28.68px;font-weight:bold;font-style:italic;font-size:43.5px;letter-spacing:0.95px;color:#3b3b3d;transform:scaleX(1.0);">and</div>
<div class="x" style="left:291.3px;top:28.68px;font-weight:bold;font-style:italic;font-size:43.5px;letter-spacing:-0.283px;color:#3b3b3d;transform:scaleX(1.0);">Breader</div>
<div class="x" style="left:466.52px;top:28.68px;font-weight:bold;font-style:italic;font-size:43.5px;letter-spacing:-0.87px;color:#3b3b3d;transform:scaleX(0.9848);">Premixes</div>
<div class="x" style="left:662.0px;top:28.68px;font-weight:bold;font-style:italic;font-size:43.5px;letter-spacing:1.08px;color:#3b3b3d;transform:scaleX(1.0);">Market</div>
<div class="x" style="left:821.59px;top:28.68px;font-weight:bold;font-style:italic;font-size:43.5px;letter-spacing:-0.87px;color:#3b3b3d;transform:scaleX(0.9937);">2024</div>
<div class="x" style="left:925.5px;top:28.68px;font-weight:bold;font-style:italic;font-size:43.5px;letter-spacing:-0.5px;color:#3b3b3d;transform:scaleX(1.0);">to</div>
<div class="x" style="left:65.69px;top:79.78px;font-weight:bold;font-style:italic;font-size:43.5px;letter-spacing:-0.87px;color:#3b3b3d;transform:scaleX(0.9906);">2032</div>
<div class="x" style="left:193.94px;top:162.53px;font-size:19.1px;letter-spacing:0.573px;color:#1c1c1c;transform:scaleX(1.0597);">Global</div>
<div class="x" style="left:258.89px;top:162.53px;font-size:19.1px;letter-spacing:0.573px;color:#1c1c1c;transform:scaleX(1.055);">Market</div>
<div class="x" style="left:328.58px;top:162.53px;font-size:19.1px;letter-spacing:-0.382px;color:#1c1c1c;transform:scaleX(0.9176);">Size,</div>
<div class="x" style="left:373.1px;top:162.53px;font-size:19.1px;letter-spacing:0.383px;color:#1c1c1c;transform:scaleX(1.0);">2024</div>
<div class="x" style="left:419.74px;top:162.53px;font-size:19.1px;letter-spacing:0.573px;color:#1c1c1c;transform:scaleX(1.1591);">and</div>
<div class="x" style="left:461.5px;top:162.53px;font-size:19.1px;letter-spacing:0.2px;color:#1c1c1c;transform:scaleX(1.0);">2032</div>
<div class="x" style="left:286.11px;top:190.2px;font-weight:bold;font-size:20.2px;letter-spacing:-0.404px;color:#111;transform:scaleX(0.9938);">(USD</div>
<div class="x" style="left:340.3px;top:190.2px;font-weight:bold;font-size:20.2px;letter-spacing:0.371px;color:#111;transform:scaleX(1.0);">Million)</div>
<div class="x" style="left:195.9px;top:416.26px;font-size:19.3px;letter-spacing:0.114px;color:#1c1c1c;transform:scaleX(1.0);">4,066.30</div>
<div class="x" style="left:427.4px;top:305.36px;font-size:19.3px;letter-spacing:0.15px;color:#1c1c1c;transform:scaleX(1.0);">6193.33</div>
<div class="x" style="left:215.4px;top:544.03px;font-size:16.5px;letter-spacing:0.067px;color:#3a484e;transform:scaleX(1.0);">2024</div>
<div class="x" style="left:444.6px;top:544.03px;font-size:16.5px;letter-spacing:-0.033px;color:#3a484e;transform:scaleX(1.0);">2032</div>
<div class="x" style="left:761.52px;top:361.48px;font-weight:bold;font-size:33.4px;letter-spacing:-0.668px;color:#ffffff;transform:scaleX(0.9814);">CAGR</div>
<div class="x" style="left:775.6px;top:410.02px;font-size:23.6px;letter-spacing:0.25px;color:#ffffff;transform:scaleX(1.0);">5.4</div>
<div class="x" style="left:976.56px;top:313.72px;font-size:19px;letter-spacing:0.57px;color:#1c1c1c;transform:scaleX(1.0705);">Market</div>
<div class="x" style="left:1047.0px;top:313.72px;font-size:19px;letter-spacing:0.457px;color:#1c1c1c;transform:scaleX(1.0);">Segments</div>
<div class="x" style="left:978.1px;top:336.79px;font-weight:bold;font-size:18.8px;letter-spacing:-0.125px;color:#111;transform:scaleX(1.0);">Based</div>
<div class="x" style="left:1039.31px;top:336.79px;font-weight:bold;font-size:18.8px;letter-spacing:-0.376px;color:#111;transform:scaleX(0.9891);">on</div>
<div class="x" style="left:1068.4px;top:336.79px;font-weight:bold;font-size:18.8px;letter-spacing:0.067px;color:#111;transform:scaleX(1.0);">Type</div>
<div class="x" style="left:1007.3px;top:358.82px;font-size:19px;letter-spacing:0.57px;color:#1c1c1c;transform:scaleX(1.0501);">Batter</div>
<div class="x" style="left:1066.4px;top:358.82px;font-size:19px;letter-spacing:-0.14px;color:#1c1c1c;transform:scaleX(1.0);">Premix</div>
<div class="x" style="left:1007.37px;top:381.02px;font-size:19px;letter-spacing:0.57px;color:#1c1c1c;transform:scaleX(1.0172);">Breader</div>
<div class="x" style="left:1084.0px;top:381.02px;font-size:19px;letter-spacing:-0.14px;color:#1c1c1c;transform:scaleX(1.0);">Premix</div>
<div class="x" style="left:977.5px;top:403.39px;font-weight:bold;font-size:18.8px;letter-spacing:0.225px;color:#111;transform:scaleX(1.0);">Based</div>
<div class="x" style="left:1039.1px;top:403.39px;font-weight:bold;font-size:18.8px;letter-spacing:-0.1px;color:#111;transform:scaleX(1.0);">on</div>
<div class="x" style="left:1067.1px;top:403.39px;font-weight:bold;font-size:18.8px;letter-spacing:-0.376px;color:#111;transform:scaleX(0.9966);">End-use</div>
<div class="x" style="left:1145.33px;top:403.39px;font-weight:bold;font-size:18.8px;letter-spacing:-0.376px;color:#111;transform:scaleX(0.9735);">Industry</div>
<div class="x" style="left:1006.92px;top:425.62px;font-size:19px;letter-spacing:0.57px;color:#1c1c1c;transform:scaleX(1.0381);">Food</div>
<div class="x" style="left:1057.8px;top:425.62px;font-size:19px;letter-spacing:0.57px;color:#1c1c1c;transform:scaleX(1.1022);">Manufacturing</div>
<div class="x" style="left:1006.96px;top:448.42px;font-size:19px;letter-spacing:0.57px;color:#1c1c1c;transform:scaleX(1.0206);">Foodservice</div>
<div class="x" style="left:1006.96px;top:470.92px;font-size:19px;letter-spacing:0.57px;color:#1c1c1c;transform:scaleX(1.0188);">Retail</div>
<div class="x" style="left:1077.0px;top:33.87px;font-size:20px;letter-spacing:-0.386px;color:#38aed2;transform:scaleX(1.0);">Credence</div>
<div class="x" style="left:1165.61px;top:33.87px;font-size:20px;letter-spacing:-0.4px;color:#66798a;transform:scaleX(0.9975);">Research</div>
<div class="x" style="left:1078.0px;top:56.34px;font-weight:bold;font-size:6.1px;letter-spacing:2.95px;color:#4a4a4a;transform:scaleX(1.0);">Actionable Insights Delivered</div>
</body></html>
